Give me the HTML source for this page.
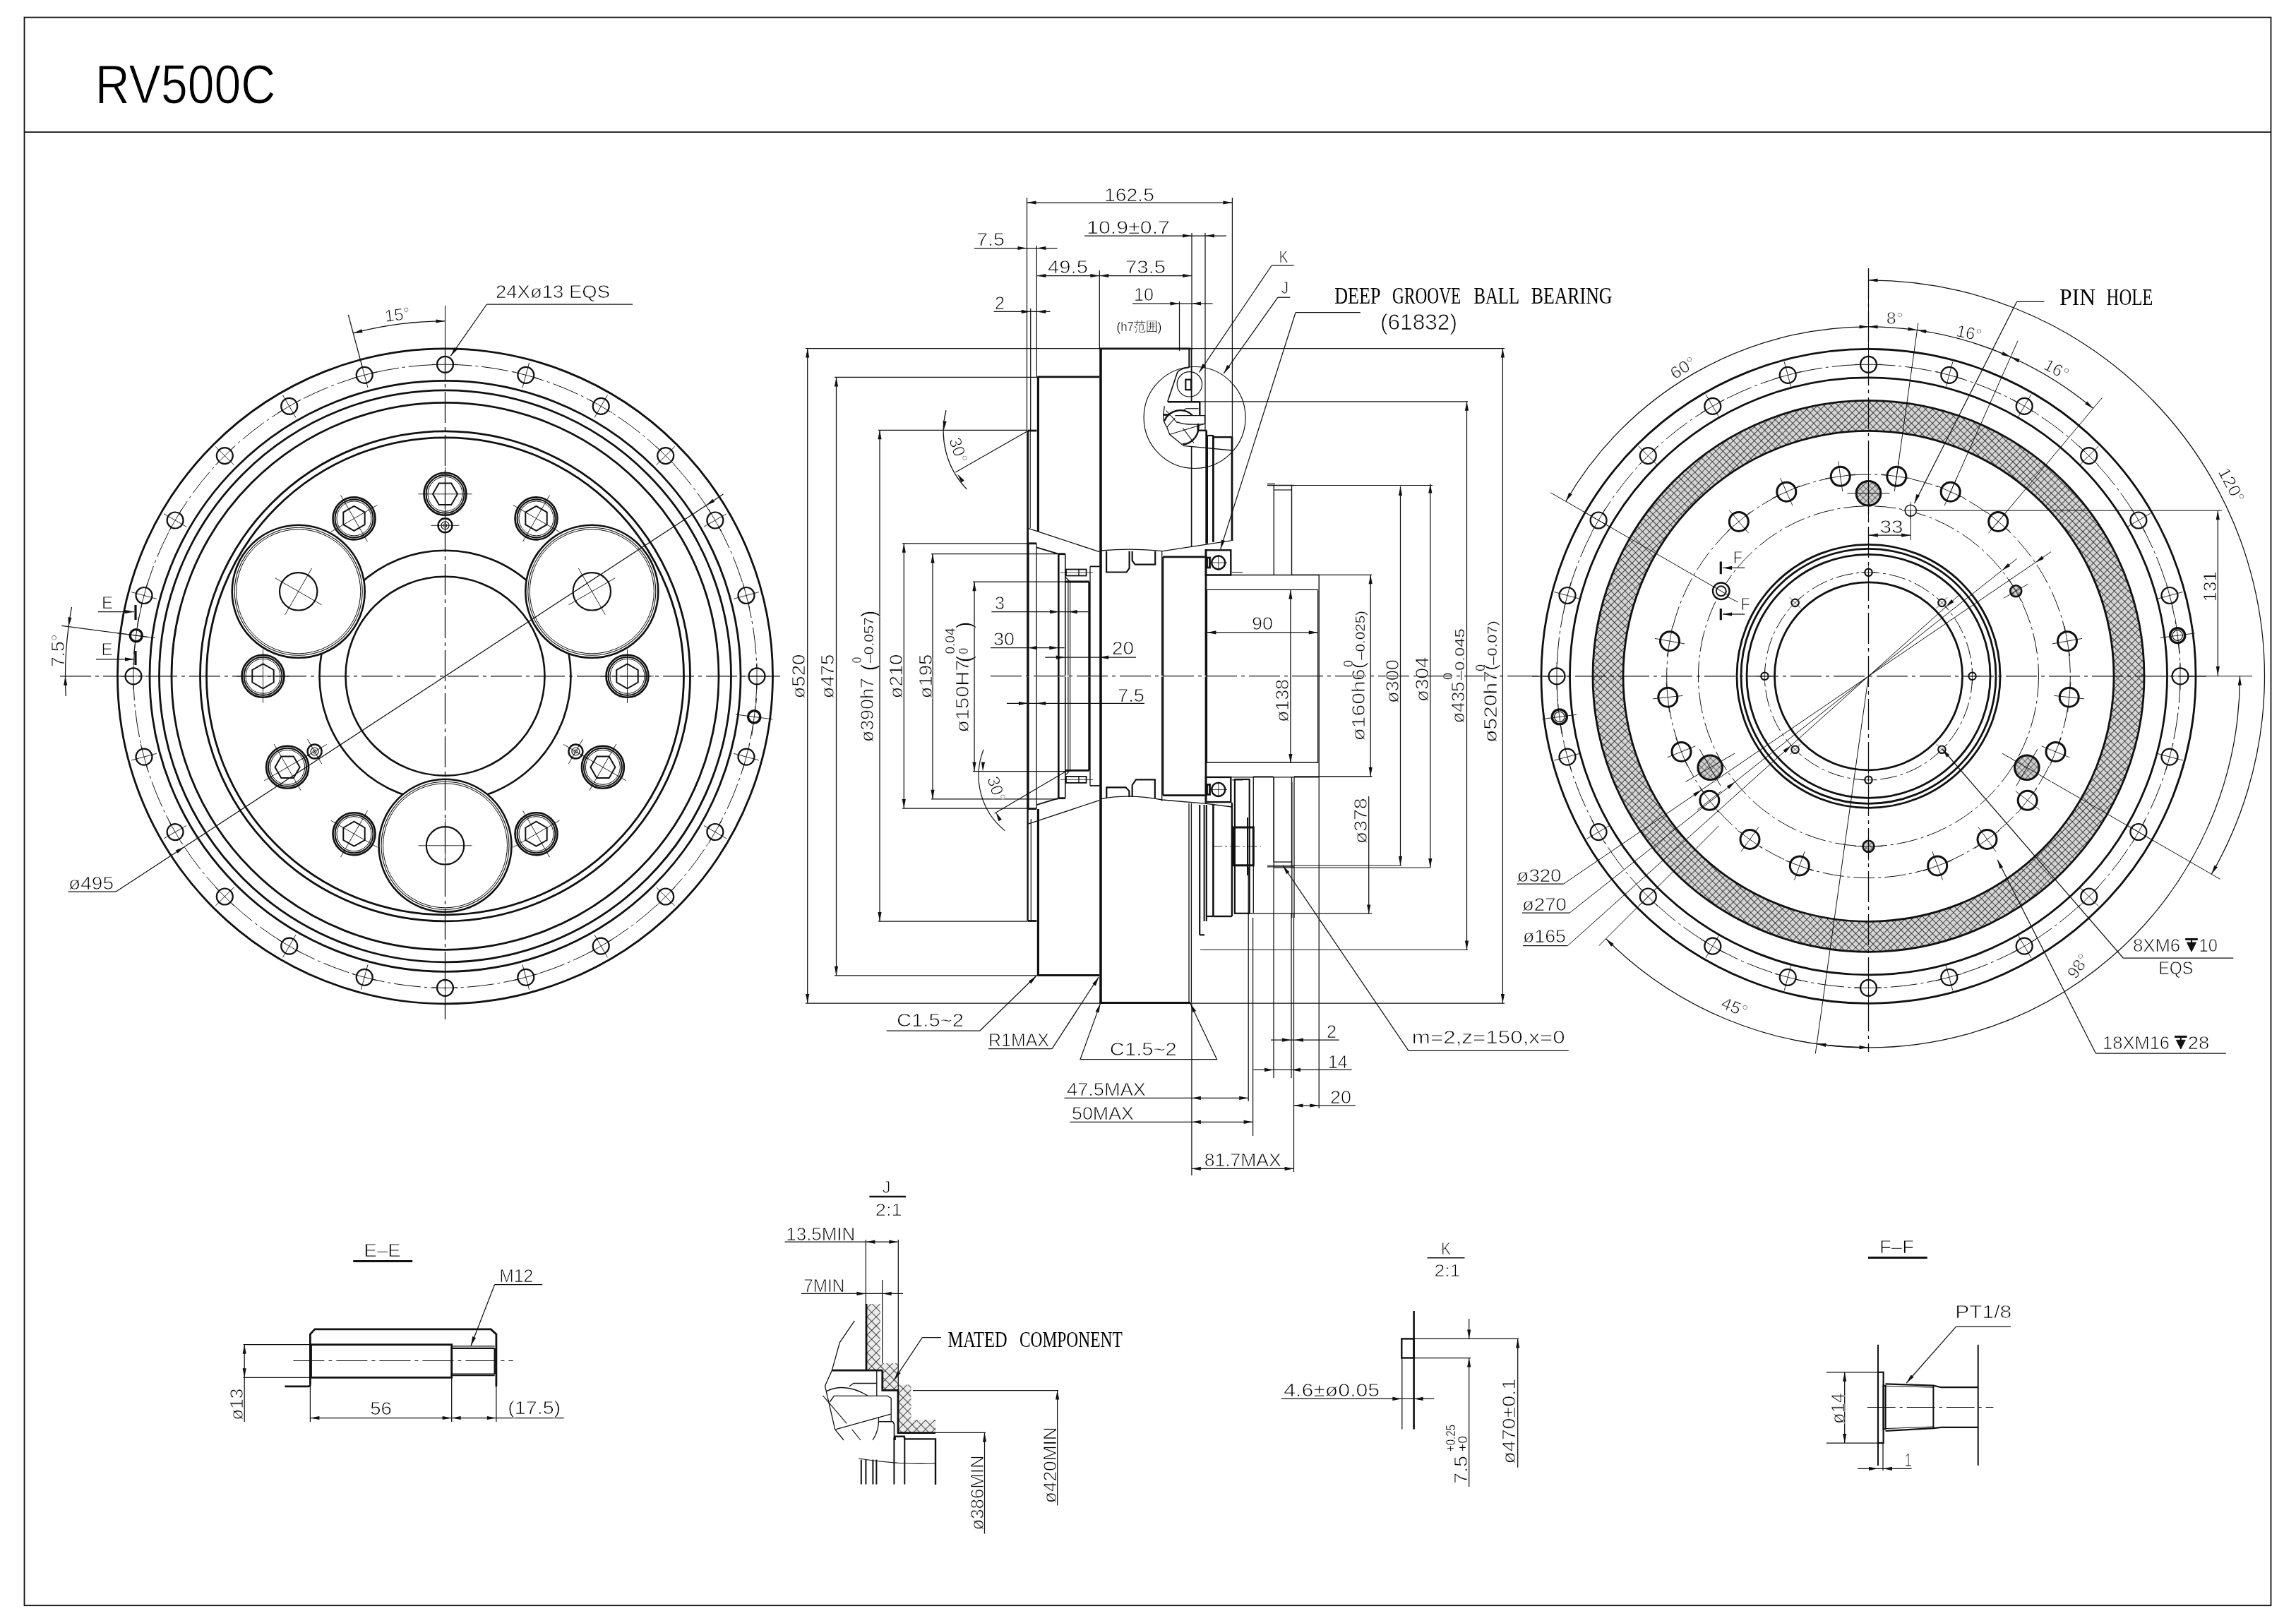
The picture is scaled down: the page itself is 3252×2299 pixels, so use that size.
<!DOCTYPE html><html><head><meta charset="utf-8"><title>RV500C</title><style>html,body{margin:0;padding:0;background:#fff;width:3252px;height:2299px;overflow:hidden}svg{display:block;filter:grayscale(1)}</style></head><body><svg xmlns="http://www.w3.org/2000/svg" width="3252" height="2299" viewBox="0 0 3252 2299" stroke-linecap="butt"><defs><pattern id="xh" patternUnits="userSpaceOnUse" width="7" height="7" patternTransform="rotate(45)"><rect width="7" height="7" fill="#d4d4d4"/><path d="M0,0 L7,0 M0,0 L0,7" stroke="#111" stroke-width="1.45"/></pattern><pattern id="xh2" patternUnits="userSpaceOnUse" width="6" height="6" patternTransform="rotate(45)"><rect width="6" height="6" fill="#cfcfcf"/><path d="M0,0 L6,0 M0,0 L0,6" stroke="#111" stroke-width="1.1"/></pattern><pattern id="xh3" patternUnits="userSpaceOnUse" width="9" height="9" patternTransform="rotate(45)"><rect width="9" height="9" fill="#ebebeb"/><path d="M0,0 L9,0 M0,0 L0,9" stroke="#111" stroke-width="1.5"/></pattern></defs><rect width="3252" height="2299" fill="#fff"/><rect x="34.5" y="24.6" width="3182" height="2249.6" fill="none" stroke="#111" stroke-width="1.8"/>
<line x1="34.5" y1="187.2" x2="3216.5" y2="187.2" stroke="#111" stroke-width="1.8"/>
<text x="134.8" y="146" font-family="Liberation Sans" font-size="77" fill="#000" font-weight="normal" text-anchor="start" textLength="255.5" lengthAdjust="spacingAndGlyphs" stroke="#fff" stroke-width="1.0">RV500C</text>
<circle cx="630.5" cy="957.8" r="464" fill="none" stroke="#111" stroke-width="2.8"/>
<circle cx="630.5" cy="957.8" r="418.5" fill="none" stroke="#111" stroke-width="2.8"/>
<circle cx="630.5" cy="957.8" r="405" fill="none" stroke="#111" stroke-width="2.8"/>
<circle cx="630.5" cy="957.8" r="387.5" fill="none" stroke="#111" stroke-width="2.8"/>
<circle cx="630.5" cy="957.8" r="347" fill="none" stroke="#111" stroke-width="2.8"/>
<circle cx="630.5" cy="957.8" r="338" fill="none" stroke="#111" stroke-width="2.8"/>
<circle cx="630.5" cy="957.8" r="441.5" fill="none" stroke="#111" stroke-width="1.0" stroke-dasharray="38 5 4 5"/>
<circle cx="630.5" cy="957.8" r="178" fill="none" stroke="#111" stroke-width="2.6"/>
<circle cx="630.5" cy="957.8" r="141" fill="none" stroke="#111" stroke-width="2.6"/>
<circle cx="630.5" cy="516.3" r="11.5" fill="#fff" stroke="#111" stroke-width="2.2"/>
<line x1="630.5" y1="534.8" x2="630.5" y2="497.8" stroke="#111" stroke-width="0.9"/>
<line x1="612" y1="516.3" x2="649" y2="516.3" stroke="#111" stroke-width="0.9"/>
<circle cx="744.8" cy="531.3" r="11.5" fill="#fff" stroke="#111" stroke-width="2.2"/>
<line x1="740" y1="549.2" x2="749.6" y2="513.5" stroke="#111" stroke-width="0.9"/>
<line x1="726.9" y1="526.6" x2="762.6" y2="536.1" stroke="#111" stroke-width="0.9"/>
<circle cx="851.2" cy="575.4" r="11.5" fill="#fff" stroke="#111" stroke-width="2.2"/>
<line x1="842" y1="591.5" x2="860.5" y2="559.4" stroke="#111" stroke-width="0.9"/>
<line x1="835.2" y1="566.2" x2="867.3" y2="584.7" stroke="#111" stroke-width="0.9"/>
<circle cx="942.7" cy="645.6" r="11.5" fill="#fff" stroke="#111" stroke-width="2.2"/>
<line x1="929.6" y1="658.7" x2="955.8" y2="632.5" stroke="#111" stroke-width="0.9"/>
<line x1="929.6" y1="632.5" x2="955.8" y2="658.7" stroke="#111" stroke-width="0.9"/>
<circle cx="1012.9" cy="737" r="11.5" fill="#fff" stroke="#111" stroke-width="2.2"/>
<line x1="996.8" y1="746.3" x2="1028.9" y2="727.8" stroke="#111" stroke-width="0.9"/>
<line x1="1003.6" y1="721" x2="1022.1" y2="753.1" stroke="#111" stroke-width="0.9"/>
<circle cx="1057" cy="843.5" r="11.5" fill="#fff" stroke="#111" stroke-width="2.2"/>
<line x1="1039.1" y1="848.3" x2="1074.8" y2="838.7" stroke="#111" stroke-width="0.9"/>
<line x1="1052.2" y1="825.7" x2="1061.7" y2="861.4" stroke="#111" stroke-width="0.9"/>
<circle cx="1072" cy="957.8" r="11.5" fill="#fff" stroke="#111" stroke-width="2.2"/>
<line x1="1053.5" y1="957.8" x2="1090.5" y2="957.8" stroke="#111" stroke-width="0.9"/>
<line x1="1072" y1="939.3" x2="1072" y2="976.3" stroke="#111" stroke-width="0.9"/>
<circle cx="1057" cy="1072.1" r="11.5" fill="#fff" stroke="#111" stroke-width="2.2"/>
<line x1="1039.1" y1="1067.3" x2="1074.8" y2="1076.9" stroke="#111" stroke-width="0.9"/>
<line x1="1061.7" y1="1054.2" x2="1052.2" y2="1089.9" stroke="#111" stroke-width="0.9"/>
<circle cx="1012.9" cy="1178.5" r="11.5" fill="#fff" stroke="#111" stroke-width="2.2"/>
<line x1="996.8" y1="1169.3" x2="1028.9" y2="1187.8" stroke="#111" stroke-width="0.9"/>
<line x1="1022.1" y1="1162.5" x2="1003.6" y2="1194.6" stroke="#111" stroke-width="0.9"/>
<circle cx="942.7" cy="1270" r="11.5" fill="#fff" stroke="#111" stroke-width="2.2"/>
<line x1="929.6" y1="1256.9" x2="955.8" y2="1283.1" stroke="#111" stroke-width="0.9"/>
<line x1="955.8" y1="1256.9" x2="929.6" y2="1283.1" stroke="#111" stroke-width="0.9"/>
<circle cx="851.2" cy="1340.2" r="11.5" fill="#fff" stroke="#111" stroke-width="2.2"/>
<line x1="842" y1="1324.1" x2="860.5" y2="1356.2" stroke="#111" stroke-width="0.9"/>
<line x1="867.3" y1="1330.9" x2="835.2" y2="1349.4" stroke="#111" stroke-width="0.9"/>
<circle cx="744.8" cy="1384.3" r="11.5" fill="#fff" stroke="#111" stroke-width="2.2"/>
<line x1="740" y1="1366.4" x2="749.6" y2="1402.1" stroke="#111" stroke-width="0.9"/>
<line x1="762.6" y1="1379.5" x2="726.9" y2="1389" stroke="#111" stroke-width="0.9"/>
<circle cx="630.5" cy="1399.3" r="11.5" fill="#fff" stroke="#111" stroke-width="2.2"/>
<line x1="630.5" y1="1380.8" x2="630.5" y2="1417.8" stroke="#111" stroke-width="0.9"/>
<line x1="649" y1="1399.3" x2="612" y2="1399.3" stroke="#111" stroke-width="0.9"/>
<circle cx="516.2" cy="1384.3" r="11.5" fill="#fff" stroke="#111" stroke-width="2.2"/>
<line x1="521" y1="1366.4" x2="511.4" y2="1402.1" stroke="#111" stroke-width="0.9"/>
<line x1="534.1" y1="1389" x2="498.4" y2="1379.5" stroke="#111" stroke-width="0.9"/>
<circle cx="409.7" cy="1340.2" r="11.5" fill="#fff" stroke="#111" stroke-width="2.2"/>
<line x1="419" y1="1324.1" x2="400.5" y2="1356.2" stroke="#111" stroke-width="0.9"/>
<line x1="425.8" y1="1349.4" x2="393.7" y2="1330.9" stroke="#111" stroke-width="0.9"/>
<circle cx="318.3" cy="1270" r="11.5" fill="#fff" stroke="#111" stroke-width="2.2"/>
<line x1="331.4" y1="1256.9" x2="305.2" y2="1283.1" stroke="#111" stroke-width="0.9"/>
<line x1="331.4" y1="1283.1" x2="305.2" y2="1256.9" stroke="#111" stroke-width="0.9"/>
<circle cx="248.1" cy="1178.6" r="11.5" fill="#fff" stroke="#111" stroke-width="2.2"/>
<line x1="264.2" y1="1169.3" x2="232.1" y2="1187.8" stroke="#111" stroke-width="0.9"/>
<line x1="257.4" y1="1194.6" x2="238.9" y2="1162.5" stroke="#111" stroke-width="0.9"/>
<circle cx="204" cy="1072.1" r="11.5" fill="#fff" stroke="#111" stroke-width="2.2"/>
<line x1="221.9" y1="1067.3" x2="186.2" y2="1076.9" stroke="#111" stroke-width="0.9"/>
<line x1="208.8" y1="1089.9" x2="199.3" y2="1054.2" stroke="#111" stroke-width="0.9"/>
<circle cx="189" cy="957.8" r="11.5" fill="#fff" stroke="#111" stroke-width="2.2"/>
<line x1="207.5" y1="957.8" x2="170.5" y2="957.8" stroke="#111" stroke-width="0.9"/>
<line x1="189" y1="976.3" x2="189" y2="939.3" stroke="#111" stroke-width="0.9"/>
<circle cx="204" cy="843.5" r="11.5" fill="#fff" stroke="#111" stroke-width="2.2"/>
<line x1="221.9" y1="848.3" x2="186.2" y2="838.7" stroke="#111" stroke-width="0.9"/>
<line x1="199.3" y1="861.4" x2="208.8" y2="825.7" stroke="#111" stroke-width="0.9"/>
<circle cx="248.1" cy="737" r="11.5" fill="#fff" stroke="#111" stroke-width="2.2"/>
<line x1="264.2" y1="746.3" x2="232.1" y2="727.8" stroke="#111" stroke-width="0.9"/>
<line x1="238.9" y1="753.1" x2="257.4" y2="721" stroke="#111" stroke-width="0.9"/>
<circle cx="318.3" cy="645.6" r="11.5" fill="#fff" stroke="#111" stroke-width="2.2"/>
<line x1="331.4" y1="658.7" x2="305.2" y2="632.5" stroke="#111" stroke-width="0.9"/>
<line x1="305.2" y1="658.7" x2="331.4" y2="632.5" stroke="#111" stroke-width="0.9"/>
<circle cx="409.7" cy="575.4" r="11.5" fill="#fff" stroke="#111" stroke-width="2.2"/>
<line x1="419" y1="591.5" x2="400.5" y2="559.4" stroke="#111" stroke-width="0.9"/>
<line x1="393.7" y1="584.7" x2="425.8" y2="566.2" stroke="#111" stroke-width="0.9"/>
<circle cx="516.2" cy="531.3" r="11.5" fill="#fff" stroke="#111" stroke-width="2.2"/>
<line x1="521" y1="549.2" x2="511.4" y2="513.5" stroke="#111" stroke-width="0.9"/>
<line x1="498.4" y1="536.1" x2="534.1" y2="526.6" stroke="#111" stroke-width="0.9"/>
<circle cx="192.8" cy="900.2" r="8.6" fill="#fff" stroke="#111" stroke-width="3.4"/>
<line x1="219.1" y1="903.6" x2="166.4" y2="896.7" stroke="#111" stroke-width="0.9"/>
<line x1="189.3" y1="926.5" x2="196.2" y2="873.8" stroke="#111" stroke-width="0.9"/>
<circle cx="1068.2" cy="1015.4" r="8.6" fill="#fff" stroke="#111" stroke-width="3.4"/>
<line x1="1041.9" y1="1012" x2="1094.6" y2="1018.9" stroke="#111" stroke-width="0.9"/>
<line x1="1071.7" y1="989.1" x2="1064.8" y2="1041.8" stroke="#111" stroke-width="0.9"/>
<circle cx="838.3" cy="837.8" r="94" fill="#fff" stroke="#111" stroke-width="2.6"/>
<circle cx="838.3" cy="837.8" r="90.5" fill="none" stroke="#111" stroke-width="1.1"/>
<circle cx="838.3" cy="837.8" r="88" fill="none" stroke="#111" stroke-width="1.0"/>
<circle cx="838.3" cy="837.8" r="26.7" fill="none" stroke="#111" stroke-width="2.2"/>
<line x1="871.3" y1="818.8" x2="805.4" y2="856.8" stroke="#111" stroke-width="0.9"/>
<line x1="857.3" y1="870.7" x2="819.3" y2="804.9" stroke="#111" stroke-width="0.9"/>
<circle cx="422.7" cy="837.8" r="94" fill="#fff" stroke="#111" stroke-width="2.6"/>
<circle cx="422.7" cy="837.8" r="90.5" fill="none" stroke="#111" stroke-width="1.1"/>
<circle cx="422.7" cy="837.8" r="88" fill="none" stroke="#111" stroke-width="1.0"/>
<circle cx="422.7" cy="837.8" r="26.7" fill="none" stroke="#111" stroke-width="2.2"/>
<line x1="389.7" y1="818.8" x2="455.6" y2="856.8" stroke="#111" stroke-width="0.9"/>
<line x1="441.7" y1="804.9" x2="403.7" y2="870.7" stroke="#111" stroke-width="0.9"/>
<circle cx="630.5" cy="1197.8" r="94" fill="#fff" stroke="#111" stroke-width="2.6"/>
<circle cx="630.5" cy="1197.8" r="90.5" fill="none" stroke="#111" stroke-width="1.1"/>
<circle cx="630.5" cy="1197.8" r="88" fill="none" stroke="#111" stroke-width="1.0"/>
<circle cx="630.5" cy="1197.8" r="26.7" fill="none" stroke="#111" stroke-width="2.2"/>
<line x1="630.5" y1="1235.8" x2="630.5" y2="1159.8" stroke="#111" stroke-width="0.9"/>
<line x1="592.5" y1="1197.8" x2="668.5" y2="1197.8" stroke="#111" stroke-width="0.9"/>
<circle cx="888.5" cy="957.8" r="30" fill="#fff" stroke="#111" stroke-width="2.6"/>
<circle cx="888.5" cy="957.8" r="27" fill="none" stroke="#111" stroke-width="2.0"/>
<circle cx="888.5" cy="957.8" r="24.5" fill="none" stroke="#111" stroke-width="1.0"/>
<polygon points="888.5,975.3 873.3,966.5 873.3,949 888.5,940.3 903.7,949 903.7,966.5" fill="none" stroke="#111" stroke-width="2.0" stroke-linejoin="miter"/>
<line x1="850.5" y1="957.8" x2="926.5" y2="957.8" stroke="#111" stroke-width="0.9"/>
<line x1="888.5" y1="919.8" x2="888.5" y2="995.8" stroke="#111" stroke-width="0.9"/>
<circle cx="759.5" cy="734.4" r="30" fill="#fff" stroke="#111" stroke-width="2.6"/>
<circle cx="759.5" cy="734.4" r="27" fill="none" stroke="#111" stroke-width="2.0"/>
<circle cx="759.5" cy="734.4" r="24.5" fill="none" stroke="#111" stroke-width="1.0"/>
<polygon points="774.7,743.1 759.5,751.9 744.3,743.1 744.3,725.6 759.5,716.9 774.7,725.6" fill="none" stroke="#111" stroke-width="2.0" stroke-linejoin="miter"/>
<line x1="740.5" y1="767.3" x2="778.5" y2="701.5" stroke="#111" stroke-width="0.9"/>
<line x1="726.6" y1="715.4" x2="792.4" y2="753.4" stroke="#111" stroke-width="0.9"/>
<circle cx="630.5" cy="699.8" r="30" fill="#fff" stroke="#111" stroke-width="2.6"/>
<circle cx="630.5" cy="699.8" r="27" fill="none" stroke="#111" stroke-width="2.0"/>
<circle cx="630.5" cy="699.8" r="24.5" fill="none" stroke="#111" stroke-width="1.0"/>
<polygon points="648,699.8 639.2,715 621.8,715 613,699.8 621.8,684.6 639.2,684.6" fill="none" stroke="#111" stroke-width="2.0" stroke-linejoin="miter"/>
<line x1="630.5" y1="737.8" x2="630.5" y2="661.8" stroke="#111" stroke-width="0.9"/>
<line x1="592.5" y1="699.8" x2="668.5" y2="699.8" stroke="#111" stroke-width="0.9"/>
<circle cx="501.5" cy="734.4" r="30" fill="#fff" stroke="#111" stroke-width="2.6"/>
<circle cx="501.5" cy="734.4" r="27" fill="none" stroke="#111" stroke-width="2.0"/>
<circle cx="501.5" cy="734.4" r="24.5" fill="none" stroke="#111" stroke-width="1.0"/>
<polygon points="516.7,725.6 516.7,743.1 501.5,751.9 486.3,743.1 486.3,725.6 501.5,716.9" fill="none" stroke="#111" stroke-width="2.0" stroke-linejoin="miter"/>
<line x1="520.5" y1="767.3" x2="482.5" y2="701.5" stroke="#111" stroke-width="0.9"/>
<line x1="468.6" y1="753.4" x2="534.4" y2="715.4" stroke="#111" stroke-width="0.9"/>
<circle cx="372.5" cy="957.8" r="30" fill="#fff" stroke="#111" stroke-width="2.6"/>
<circle cx="372.5" cy="957.8" r="27" fill="none" stroke="#111" stroke-width="2.0"/>
<circle cx="372.5" cy="957.8" r="24.5" fill="none" stroke="#111" stroke-width="1.0"/>
<polygon points="372.5,940.3 387.7,949 387.7,966.5 372.5,975.3 357.3,966.5 357.3,949" fill="none" stroke="#111" stroke-width="2.0" stroke-linejoin="miter"/>
<line x1="410.5" y1="957.8" x2="334.5" y2="957.8" stroke="#111" stroke-width="0.9"/>
<line x1="372.5" y1="995.8" x2="372.5" y2="919.8" stroke="#111" stroke-width="0.9"/>
<circle cx="407.1" cy="1086.8" r="30" fill="#fff" stroke="#111" stroke-width="2.6"/>
<circle cx="407.1" cy="1086.8" r="27" fill="none" stroke="#111" stroke-width="2.0"/>
<circle cx="407.1" cy="1086.8" r="24.5" fill="none" stroke="#111" stroke-width="1.0"/>
<polygon points="398.3,1071.6 415.8,1071.6 424.6,1086.8 415.8,1102 398.3,1102 389.6,1086.8" fill="none" stroke="#111" stroke-width="2.0" stroke-linejoin="miter"/>
<line x1="440" y1="1067.8" x2="374.2" y2="1105.8" stroke="#111" stroke-width="0.9"/>
<line x1="426.1" y1="1119.7" x2="388.1" y2="1053.9" stroke="#111" stroke-width="0.9"/>
<circle cx="501.5" cy="1181.2" r="30" fill="#fff" stroke="#111" stroke-width="2.6"/>
<circle cx="501.5" cy="1181.2" r="27" fill="none" stroke="#111" stroke-width="2.0"/>
<circle cx="501.5" cy="1181.2" r="24.5" fill="none" stroke="#111" stroke-width="1.0"/>
<polygon points="486.3,1172.5 501.5,1163.7 516.7,1172.5 516.7,1190 501.5,1198.7 486.3,1190" fill="none" stroke="#111" stroke-width="2.0" stroke-linejoin="miter"/>
<line x1="520.5" y1="1148.3" x2="482.5" y2="1214.1" stroke="#111" stroke-width="0.9"/>
<line x1="534.4" y1="1200.2" x2="468.6" y2="1162.2" stroke="#111" stroke-width="0.9"/>
<circle cx="759.5" cy="1181.2" r="30" fill="#fff" stroke="#111" stroke-width="2.6"/>
<circle cx="759.5" cy="1181.2" r="27" fill="none" stroke="#111" stroke-width="2.0"/>
<circle cx="759.5" cy="1181.2" r="24.5" fill="none" stroke="#111" stroke-width="1.0"/>
<polygon points="744.3,1190 744.3,1172.5 759.5,1163.7 774.7,1172.5 774.7,1190 759.5,1198.7" fill="none" stroke="#111" stroke-width="2.0" stroke-linejoin="miter"/>
<line x1="740.5" y1="1148.3" x2="778.5" y2="1214.1" stroke="#111" stroke-width="0.9"/>
<line x1="792.4" y1="1162.2" x2="726.6" y2="1200.2" stroke="#111" stroke-width="0.9"/>
<circle cx="853.9" cy="1086.8" r="30" fill="#fff" stroke="#111" stroke-width="2.6"/>
<circle cx="853.9" cy="1086.8" r="27" fill="none" stroke="#111" stroke-width="2.0"/>
<circle cx="853.9" cy="1086.8" r="24.5" fill="none" stroke="#111" stroke-width="1.0"/>
<polygon points="845.2,1102 836.4,1086.8 845.2,1071.6 862.7,1071.6 871.4,1086.8 862.7,1102" fill="none" stroke="#111" stroke-width="2.0" stroke-linejoin="miter"/>
<line x1="821" y1="1067.8" x2="886.8" y2="1105.8" stroke="#111" stroke-width="0.9"/>
<line x1="872.9" y1="1053.9" x2="834.9" y2="1119.7" stroke="#111" stroke-width="0.9"/>
<circle cx="630.5" cy="744.3" r="10" fill="#fff" stroke="#111" stroke-width="2.4"/>
<circle cx="630.5" cy="744.3" r="5.5" fill="none" stroke="#111" stroke-width="1.2"/>
<circle cx="630.5" cy="744.3" r="2.5" fill="none" stroke="#111" stroke-width="1.0"/>
<line x1="630.5" y1="764.3" x2="630.5" y2="724.3" stroke="#111" stroke-width="0.9"/>
<line x1="610.5" y1="744.3" x2="650.5" y2="744.3" stroke="#111" stroke-width="0.9"/>
<circle cx="445.6" cy="1064.5" r="10" fill="#fff" stroke="#111" stroke-width="2.4"/>
<circle cx="445.6" cy="1064.5" r="5.5" fill="none" stroke="#111" stroke-width="1.2"/>
<circle cx="445.6" cy="1064.5" r="2.5" fill="none" stroke="#111" stroke-width="1.0"/>
<line x1="462.9" y1="1054.5" x2="428.3" y2="1074.5" stroke="#111" stroke-width="0.9"/>
<line x1="455.6" y1="1081.9" x2="435.6" y2="1047.2" stroke="#111" stroke-width="0.9"/>
<circle cx="815.4" cy="1064.5" r="10" fill="#fff" stroke="#111" stroke-width="2.4"/>
<circle cx="815.4" cy="1064.5" r="5.5" fill="none" stroke="#111" stroke-width="1.2"/>
<circle cx="815.4" cy="1064.5" r="2.5" fill="none" stroke="#111" stroke-width="1.0"/>
<line x1="798.1" y1="1054.5" x2="832.7" y2="1074.5" stroke="#111" stroke-width="0.9"/>
<line x1="825.4" y1="1047.2" x2="805.4" y2="1081.9" stroke="#111" stroke-width="0.9"/>
<line x1="85" y1="957.8" x2="1110" y2="957.8" stroke="#111" stroke-width="1.3" stroke-dasharray="44 6 5 6"/>
<line x1="630.5" y1="494" x2="630.5" y2="1444" stroke="#111" stroke-width="1.3" stroke-dasharray="44 6 5 6"/>
<line x1="630.5" y1="433" x2="630.5" y2="494" stroke="#111" stroke-width="1.1"/>
<text x="702" y="422" font-family="Liberation Sans" font-size="26" fill="#000" font-weight="normal" text-anchor="start" textLength="162" lengthAdjust="spacingAndGlyphs" stroke="#fff" stroke-width="0.75">24Xø13 EQS</text>
<line x1="689.5" y1="431" x2="896" y2="431" stroke="#111" stroke-width="1.25"/>
<line x1="689.5" y1="431" x2="638.4" y2="504.2" stroke="#111" stroke-width="1.25"/>
<polygon points="638.4,504.2 643.7,492 647.9,495" fill="#111"/>
<path d="M500.3,471.9 A503,503 0 0 1 630.5,454.8" fill="none" stroke="#111" stroke-width="1.25"/>
<polygon points="500.3,471.9 512.3,466.2 513.6,471.3" fill="#111"/>
<polygon points="630.5,454.8 617.5,457.6 617.5,452.4" fill="#111"/>
<line x1="513.5" y1="521.2" x2="493.3" y2="445.9" stroke="#111" stroke-width="1.25"/>
<text x="546" y="456" font-family="Liberation Sans" font-size="24" fill="#000" font-weight="normal" text-anchor="start" transform="rotate(-7 546 456)" textLength="36" lengthAdjust="spacingAndGlyphs" stroke="#fff" stroke-width="0.75">15°</text>
<line x1="164.3" y1="1263" x2="1024.4" y2="700.1" stroke="#111" stroke-width="1.25"/>
<polygon points="261.1,1199.5 251.6,1208.8 248.8,1204.5" fill="#111"/>
<polygon points="999.9,716.1 1009.4,706.8 1012.2,711.1" fill="#111"/>
<line x1="96.6" y1="1263" x2="164.3" y2="1263" stroke="#111" stroke-width="1.25"/>
<text x="97" y="1259.7" font-family="Liberation Sans" font-size="26" fill="#000" font-weight="normal" text-anchor="start" textLength="64" lengthAdjust="spacingAndGlyphs" stroke="#fff" stroke-width="0.75">ø495</text>
<line x1="192" y1="857" x2="192" y2="878" stroke="#111" stroke-width="3.2"/>
<line x1="192" y1="922" x2="192" y2="942" stroke="#111" stroke-width="3.2"/>
<line x1="139" y1="866.5" x2="190" y2="866.5" stroke="#111" stroke-width="1.25"/>
<polygon points="190,866.5 177,869.1 177,863.9" fill="#111"/>
<line x1="136" y1="933.8" x2="190" y2="933.8" stroke="#111" stroke-width="1.25"/>
<polygon points="190,933.8 177,936.4 177,931.2" fill="#111"/>
<text x="144" y="862" font-family="Liberation Sans" font-size="24" fill="#000" font-weight="normal" text-anchor="start" textLength="16" lengthAdjust="spacingAndGlyphs" stroke="#fff" stroke-width="0.75">E</text>
<text x="143.5" y="927.5" font-family="Liberation Sans" font-size="24" fill="#000" font-weight="normal" text-anchor="start" textLength="16" lengthAdjust="spacingAndGlyphs" stroke="#fff" stroke-width="0.75">E</text>
<path d="M92.5,957.8 A538,538 0 0 1 97.1,887.6" fill="none" stroke="#111" stroke-width="1.25"/>
<path d="M97.1,887.6 A538,538 0 0 1 101.5,859.8" fill="none" stroke="#111" stroke-width="1.25"/>
<path d="M93.2,986 A538,538 0 0 1 92.5,957.8" fill="none" stroke="#111" stroke-width="1.25"/>
<polygon points="92.5,957.8 95.3,970.8 90.1,970.8" fill="#111"/>
<polygon points="97.1,887.6 96.4,874.3 101.5,875.1" fill="#111"/>
<line x1="210.1" y1="902.5" x2="87.2" y2="886.3" stroke="#111" stroke-width="1.25"/>
<text x="90.5" y="945" font-family="Liberation Sans" font-size="26" fill="#000" font-weight="normal" text-anchor="start" transform="rotate(-90 90.5 945)" textLength="47" lengthAdjust="spacingAndGlyphs" stroke="#fff" stroke-width="0.75">7.5°</text>
<line x1="1141" y1="493.5" x2="2131" y2="493.5" stroke="#111" stroke-width="1.25"/>
<line x1="1141" y1="1421" x2="2131" y2="1421" stroke="#111" stroke-width="1.25"/>
<line x1="1182" y1="534.4" x2="1470" y2="534.4" stroke="#111" stroke-width="1.25"/>
<line x1="1182" y1="1381.8" x2="1470" y2="1381.8" stroke="#111" stroke-width="1.25"/>
<line x1="1244" y1="609.3" x2="1455" y2="609.3" stroke="#111" stroke-width="1.25"/>
<line x1="1244" y1="1305" x2="1455" y2="1305" stroke="#111" stroke-width="1.25"/>
<line x1="1278" y1="769.8" x2="1456" y2="769.8" stroke="#111" stroke-width="1.25"/>
<line x1="1278" y1="1145" x2="1456" y2="1145" stroke="#111" stroke-width="1.25"/>
<line x1="1319" y1="784.6" x2="1499" y2="784.6" stroke="#111" stroke-width="1.25"/>
<line x1="1319" y1="1131.8" x2="1499" y2="1131.8" stroke="#111" stroke-width="1.25"/>
<line x1="1378" y1="824.2" x2="1513" y2="824.2" stroke="#111" stroke-width="1.25"/>
<line x1="1378" y1="1092.5" x2="1513" y2="1092.5" stroke="#111" stroke-width="1.25"/>
<line x1="1143.7" y1="493.5" x2="1143.7" y2="1421" stroke="#111" stroke-width="1.25"/>
<polygon points="1143.7,493.5 1146.3,506.5 1141.1,506.5" fill="#111"/>
<polygon points="1143.7,1421 1141.1,1408 1146.3,1408" fill="#111"/>
<line x1="1184.5" y1="534.4" x2="1184.5" y2="1381.8" stroke="#111" stroke-width="1.25"/>
<polygon points="1184.5,534.4 1187.1,547.4 1181.9,547.4" fill="#111"/>
<polygon points="1184.5,1381.8 1181.9,1368.8 1187.1,1368.8" fill="#111"/>
<line x1="1246" y1="609.3" x2="1246" y2="1305" stroke="#111" stroke-width="1.25"/>
<polygon points="1246,609.3 1248.6,622.3 1243.4,622.3" fill="#111"/>
<polygon points="1246,1305 1243.4,1292 1248.6,1292" fill="#111"/>
<line x1="1280.3" y1="769.8" x2="1280.3" y2="1145" stroke="#111" stroke-width="1.25"/>
<polygon points="1280.3,769.8 1282.9,782.8 1277.7,782.8" fill="#111"/>
<polygon points="1280.3,1145 1277.7,1132 1282.9,1132" fill="#111"/>
<line x1="1321" y1="784.6" x2="1321" y2="1131.8" stroke="#111" stroke-width="1.25"/>
<polygon points="1321,784.6 1323.6,797.6 1318.4,797.6" fill="#111"/>
<polygon points="1321,1131.8 1318.4,1118.8 1323.6,1118.8" fill="#111"/>
<line x1="1380" y1="824.2" x2="1380" y2="1092.5" stroke="#111" stroke-width="1.25"/>
<polygon points="1380,824.2 1382.6,837.2 1377.4,837.2" fill="#111"/>
<polygon points="1380,1092.5 1377.4,1079.5 1382.6,1079.5" fill="#111"/>
<text x="1140.4" y="989.5" font-family="Liberation Sans" font-size="26" fill="#000" font-weight="normal" text-anchor="start" transform="rotate(-90 1140.4 989.5)" textLength="63" lengthAdjust="spacingAndGlyphs" stroke="#fff" stroke-width="0.75">ø520</text>
<text x="1181" y="989.5" font-family="Liberation Sans" font-size="26" fill="#000" font-weight="normal" text-anchor="start" transform="rotate(-90 1181 989.5)" textLength="63" lengthAdjust="spacingAndGlyphs" stroke="#fff" stroke-width="0.75">ø475</text>
<text x="1237.5" y="1051.2" font-family="Liberation Sans" font-size="26" fill="#000" font-weight="normal" text-anchor="start" transform="rotate(-90 1237.5 1051.2)" textLength="91" lengthAdjust="spacingAndGlyphs" stroke="#fff" stroke-width="0.75">ø390h7</text>
<text x="1241" y="950" font-family="Liberation Sans" font-size="30" fill="#000" font-weight="normal" text-anchor="start" transform="rotate(-90 1241 950)" textLength="9" lengthAdjust="spacingAndGlyphs" stroke="#fff" stroke-width="0.4">(</text>
<text x="1220.5" y="939.2" font-family="Liberation Sans" font-size="18" fill="#000" font-weight="normal" text-anchor="start" transform="rotate(-90 1220.5 939.2)" textLength="8.5" lengthAdjust="spacingAndGlyphs" stroke="#fff" stroke-width="0.35">0</text>
<text x="1236.8" y="939.2" font-family="Liberation Sans" font-size="18" fill="#000" font-weight="normal" text-anchor="start" transform="rotate(-90 1236.8 939.2)" textLength="65" lengthAdjust="spacingAndGlyphs" stroke="#fff" stroke-width="0.35">–0.057</text>
<text x="1241" y="874" font-family="Liberation Sans" font-size="30" fill="#000" font-weight="normal" text-anchor="start" transform="rotate(-90 1241 874)" textLength="9" lengthAdjust="spacingAndGlyphs" stroke="#fff" stroke-width="0.4">)</text>
<text x="1278.3" y="989.5" font-family="Liberation Sans" font-size="26" fill="#000" font-weight="normal" text-anchor="start" transform="rotate(-90 1278.3 989.5)" textLength="63" lengthAdjust="spacingAndGlyphs" stroke="#fff" stroke-width="0.75">ø210</text>
<text x="1320" y="989.5" font-family="Liberation Sans" font-size="26" fill="#000" font-weight="normal" text-anchor="start" transform="rotate(-90 1320 989.5)" textLength="63" lengthAdjust="spacingAndGlyphs" stroke="#fff" stroke-width="0.75">ø195</text>
<text x="1372" y="1037.7" font-family="Liberation Sans" font-size="26" fill="#000" font-weight="normal" text-anchor="start" transform="rotate(-90 1372 1037.7)" textLength="103" lengthAdjust="spacingAndGlyphs" stroke="#fff" stroke-width="0.75">ø150H7</text>
<text x="1376" y="938" font-family="Liberation Sans" font-size="30" fill="#000" font-weight="normal" text-anchor="start" transform="rotate(-90 1376 938)" textLength="9" lengthAdjust="spacingAndGlyphs" stroke="#fff" stroke-width="0.4">(</text>
<text x="1352" y="926.5" font-family="Liberation Sans" font-size="18" fill="#000" font-weight="normal" text-anchor="start" transform="rotate(-90 1352 926.5)" textLength="37" lengthAdjust="spacingAndGlyphs" stroke="#fff" stroke-width="0.35">0.04</text>
<text x="1371.4" y="926.5" font-family="Liberation Sans" font-size="18" fill="#000" font-weight="normal" text-anchor="start" transform="rotate(-90 1371.4 926.5)" textLength="8.5" lengthAdjust="spacingAndGlyphs" stroke="#fff" stroke-width="0.35">0</text>
<text x="1376" y="890" font-family="Liberation Sans" font-size="30" fill="#000" font-weight="normal" text-anchor="start" transform="rotate(-90 1376 890)" textLength="9" lengthAdjust="spacingAndGlyphs" stroke="#fff" stroke-width="0.4">)</text>
<line x1="1454.5" y1="280" x2="1454.5" y2="610" stroke="#111" stroke-width="1.25"/>
<line x1="1745.4" y1="280" x2="1745.4" y2="620" stroke="#111" stroke-width="1.25"/>
<line x1="1454.5" y1="287" x2="1745.4" y2="287" stroke="#111" stroke-width="1.25"/>
<polygon points="1454.5,287 1467.5,284.4 1467.5,289.6" fill="#111"/>
<polygon points="1745.4,287 1732.4,289.6 1732.4,284.4" fill="#111"/>
<text x="1564" y="284.5" font-family="Liberation Sans" font-size="26" fill="#000" font-weight="normal" text-anchor="start" textLength="71" lengthAdjust="spacingAndGlyphs" stroke="#fff" stroke-width="0.75">162.5</text>
<line x1="1536" y1="334" x2="1737" y2="334" stroke="#111" stroke-width="1.25"/>
<line x1="1688" y1="330" x2="1688" y2="496" stroke="#111" stroke-width="1.25"/>
<line x1="1707" y1="330" x2="1707" y2="611" stroke="#111" stroke-width="1.25"/>
<polygon points="1688,334 1675,336.6 1675,331.4" fill="#111"/>
<polygon points="1707,334 1720,331.4 1720,336.6" fill="#111"/>
<text x="1539" y="330.5" font-family="Liberation Sans" font-size="26" fill="#000" font-weight="normal" text-anchor="start" textLength="118" lengthAdjust="spacingAndGlyphs" stroke="#fff" stroke-width="0.75">10.9±0.7</text>
<line x1="1380" y1="351.5" x2="1497.6" y2="351.5" stroke="#111" stroke-width="1.25"/>
<line x1="1468.4" y1="348" x2="1468.4" y2="534" stroke="#111" stroke-width="1.25"/>
<polygon points="1454.5,351.5 1441.5,354.1 1441.5,348.9" fill="#111"/>
<polygon points="1468.4,351.5 1481.4,348.9 1481.4,354.1" fill="#111"/>
<text x="1383" y="347.5" font-family="Liberation Sans" font-size="26" fill="#000" font-weight="normal" text-anchor="start" textLength="40" lengthAdjust="spacingAndGlyphs" stroke="#fff" stroke-width="0.75">7.5</text>
<line x1="1557.3" y1="383" x2="1557.3" y2="494" stroke="#111" stroke-width="1.25"/>
<line x1="1468.4" y1="390.5" x2="1688" y2="390.5" stroke="#111" stroke-width="1.25"/>
<polygon points="1468.4,390.5 1481.4,387.9 1481.4,393.1" fill="#111"/>
<polygon points="1557.3,390.5 1544.3,393.1 1544.3,387.9" fill="#111"/>
<polygon points="1557.3,390.5 1570.3,387.9 1570.3,393.1" fill="#111"/>
<polygon points="1688,390.5 1675,393.1 1675,387.9" fill="#111"/>
<text x="1484" y="386.5" font-family="Liberation Sans" font-size="26" fill="#000" font-weight="normal" text-anchor="start" textLength="57" lengthAdjust="spacingAndGlyphs" stroke="#fff" stroke-width="0.75">49.5</text>
<text x="1594" y="386.5" font-family="Liberation Sans" font-size="26" fill="#000" font-weight="normal" text-anchor="start" textLength="57" lengthAdjust="spacingAndGlyphs" stroke="#fff" stroke-width="0.75">73.5</text>
<line x1="1604" y1="430" x2="1717.6" y2="430" stroke="#111" stroke-width="1.25"/>
<line x1="1670.5" y1="427" x2="1670.5" y2="497" stroke="#111" stroke-width="1.25"/>
<polygon points="1670.5,430 1657.5,432.6 1657.5,427.4" fill="#111"/>
<polygon points="1688,430 1701,427.4 1701,432.6" fill="#111"/>
<text x="1606" y="426" font-family="Liberation Sans" font-size="26" fill="#000" font-weight="normal" text-anchor="start" textLength="28" lengthAdjust="spacingAndGlyphs" stroke="#fff" stroke-width="0.75">10</text>
<line x1="1407.5" y1="441.4" x2="1487.5" y2="441.4" stroke="#111" stroke-width="1.25"/>
<line x1="1459.7" y1="437" x2="1459.7" y2="610" stroke="#111" stroke-width="1.25"/>
<polygon points="1459.7,441.4 1446.7,444 1446.7,438.8" fill="#111"/>
<polygon points="1468.4,441.4 1481.4,438.8 1481.4,444" fill="#111"/>
<text x="1409" y="437.5" font-family="Liberation Sans" font-size="26" fill="#000" font-weight="normal" text-anchor="start" textLength="14" lengthAdjust="spacingAndGlyphs" stroke="#fff" stroke-width="0.75">2</text>
<text x="1581.5" y="468.5" font-family="Liberation Sans" font-size="19" fill="#000" font-weight="normal" text-anchor="start" textLength="64" lengthAdjust="spacingAndGlyphs" stroke="#fff" stroke-width="0.35">(h7范囲)</text>
<line x1="1557.5" y1="493.8" x2="1686.3" y2="493.8" stroke="#111" stroke-width="2.8"/>
<line x1="1557.5" y1="1420.5" x2="1686.3" y2="1420.5" stroke="#111" stroke-width="2.8"/>
<line x1="1559" y1="493.8" x2="1559" y2="1421" stroke="#111" stroke-width="3.6"/>
<line x1="1684.3" y1="493.8" x2="1684.3" y2="520.5" stroke="#111" stroke-width="2.0"/>
<line x1="1687.6" y1="493.8" x2="1687.6" y2="569" stroke="#111" stroke-width="1.8"/>
<line x1="1469.4" y1="533.8" x2="1557.2" y2="533.8" stroke="#111" stroke-width="2.8"/>
<line x1="1469.4" y1="1381.5" x2="1557.2" y2="1381.5" stroke="#111" stroke-width="2.8"/>
<line x1="1470.4" y1="533.8" x2="1470.4" y2="753" stroke="#111" stroke-width="3.2"/>
<line x1="1470.4" y1="1146" x2="1470.4" y2="1381.5" stroke="#111" stroke-width="3.2"/>
<line x1="1455.6" y1="610" x2="1468.4" y2="610" stroke="#111" stroke-width="2.8"/>
<line x1="1455.6" y1="1304.5" x2="1468.4" y2="1304.5" stroke="#111" stroke-width="2.8"/>
<line x1="1455.6" y1="610" x2="1455.6" y2="770" stroke="#111" stroke-width="2.8"/>
<line x1="1459.2" y1="610" x2="1459.2" y2="748" stroke="#111" stroke-width="1.2"/>
<line x1="1455.6" y1="1145" x2="1455.6" y2="1304.5" stroke="#111" stroke-width="2.4"/>
<line x1="1460.3" y1="1160" x2="1460.3" y2="1304.5" stroke="#111" stroke-width="1.2"/>
<line x1="1455.6" y1="748.1" x2="1557.2" y2="781.7" stroke="#111" stroke-width="1.3"/>
<path d="M1559,780 Q1605,776 1647,780.7 L1743.5,765.9" fill="none" stroke="#111" stroke-width="1.3"/>
<line x1="1455.9" y1="769.8" x2="1455.9" y2="957" stroke="#111" stroke-width="3.4"/>
<line x1="1455.9" y1="769.8" x2="1468.1" y2="769.8" stroke="#111" stroke-width="2.8"/>
<line x1="1468.1" y1="769.8" x2="1468.1" y2="957" stroke="#111" stroke-width="1.3"/>
<line x1="1468.1" y1="775.3" x2="1499.3" y2="784.7" stroke="#111" stroke-width="1.8"/>
<line x1="1499.3" y1="784.7" x2="1499.3" y2="957" stroke="#111" stroke-width="2.6"/>
<line x1="1508.8" y1="784.7" x2="1508.8" y2="957" stroke="#111" stroke-width="1.6"/>
<line x1="1499.3" y1="784.7" x2="1508.8" y2="784.7" stroke="#111" stroke-width="2.8"/>
<line x1="1512.9" y1="824" x2="1512.9" y2="957" stroke="#111" stroke-width="1.2"/>
<line x1="1515.6" y1="824" x2="1515.6" y2="957" stroke="#111" stroke-width="1.2"/>
<line x1="1542.7" y1="824" x2="1542.7" y2="957" stroke="#111" stroke-width="2.8"/>
<line x1="1509" y1="824" x2="1542.7" y2="824" stroke="#111" stroke-width="2.8"/>
<line x1="1509" y1="817.5" x2="1515.6" y2="824" stroke="#111" stroke-width="1.3"/>
<rect x="1510" y="806.5" width="28.6" height="9" fill="none" stroke="#111" stroke-width="1.8"/>
<line x1="1528" y1="806.5" x2="1528" y2="815.5" stroke="#111" stroke-width="1.4"/>
<line x1="1502" y1="811" x2="1548" y2="811" stroke="#111" stroke-width="0.8"/>
<line x1="1544" y1="802.4" x2="1544" y2="957" stroke="#111" stroke-width="1.3"/>
<line x1="1544" y1="802.4" x2="1557.6" y2="802.4" stroke="#111" stroke-width="1.8"/>
<polyline points="1567.1,780.7 1567.1,810.5 1595.6,810.5 1599.6,805 1599.6,780.7" fill="none" stroke="#111" stroke-width="2.2" stroke-linejoin="miter"/>
<polyline points="1603.7,780.7 1603.7,794.2 1607.8,799.6 1636.2,799.6 1636.2,780.7" fill="none" stroke="#111" stroke-width="2.2" stroke-linejoin="miter"/>
<line x1="1645.7" y1="780.7" x2="1645.7" y2="957" stroke="#111" stroke-width="1.3"/>
<line x1="1647.2" y1="788.8" x2="1647.2" y2="957" stroke="#111" stroke-width="2.2"/>
<line x1="1647.2" y1="788.8" x2="1706.7" y2="788.8" stroke="#111" stroke-width="2.8"/>
<line x1="1708" y1="778" x2="1708" y2="957" stroke="#111" stroke-width="2.8"/>
<rect x="1708" y="779.3" width="35.3" height="35.2" fill="none" stroke="#111" stroke-width="2.4"/>
<circle cx="1725.7" cy="797" r="9.5" fill="none" stroke="#111" stroke-width="2.4"/>
<line x1="1713" y1="797" x2="1738" y2="797" stroke="#111" stroke-width="0.8"/>
<line x1="1725.7" y1="786" x2="1725.7" y2="808" stroke="#111" stroke-width="0.8"/>
<rect x="1709.5" y="790" width="4" height="14" fill="none" stroke="#111" stroke-width="2.8"/>
<line x1="1708" y1="814.5" x2="1868" y2="814.5" stroke="#111" stroke-width="1.4"/>
<line x1="1709.4" y1="835.4" x2="1866.7" y2="835.4" stroke="#111" stroke-width="1.4"/>
<line x1="1804.3" y1="687.5" x2="1804.3" y2="814.5" stroke="#111" stroke-width="1.4"/>
<line x1="1829.5" y1="687.5" x2="1829.5" y2="814.5" stroke="#111" stroke-width="1.4"/>
<line x1="1795" y1="687.5" x2="1833" y2="687.5" stroke="#111" stroke-width="1.4"/>
<line x1="1745" y1="810.5" x2="1760" y2="810.5" stroke="#111" stroke-width="1.0"/>
<line x1="1455.6" y1="1167.3" x2="1557.2" y2="1133.7" stroke="#111" stroke-width="1.3"/>
<path d="M1559,1131.6 Q1600,1124 1646.4,1133 L1708.6,1138.3 L1745,1143" fill="none" stroke="#111" stroke-width="1.3"/>
<line x1="1455.9" y1="1145.6" x2="1455.9" y2="958.4" stroke="#111" stroke-width="3.4"/>
<line x1="1455.9" y1="1145.6" x2="1468.1" y2="1145.6" stroke="#111" stroke-width="2.8"/>
<line x1="1468.1" y1="1145.6" x2="1468.1" y2="958.4" stroke="#111" stroke-width="1.3"/>
<line x1="1468.1" y1="1140.1" x2="1499.3" y2="1130.7" stroke="#111" stroke-width="1.8"/>
<line x1="1499.3" y1="1130.7" x2="1499.3" y2="958.4" stroke="#111" stroke-width="2.6"/>
<line x1="1508.8" y1="1130.7" x2="1508.8" y2="958.4" stroke="#111" stroke-width="1.6"/>
<line x1="1499.3" y1="1130.7" x2="1508.8" y2="1130.7" stroke="#111" stroke-width="2.8"/>
<line x1="1512.9" y1="1091.4" x2="1512.9" y2="958.4" stroke="#111" stroke-width="1.2"/>
<line x1="1515.6" y1="1091.4" x2="1515.6" y2="958.4" stroke="#111" stroke-width="1.2"/>
<line x1="1542.7" y1="1091.4" x2="1542.7" y2="958.4" stroke="#111" stroke-width="2.8"/>
<line x1="1509" y1="1091.4" x2="1542.7" y2="1091.4" stroke="#111" stroke-width="2.8"/>
<line x1="1509" y1="1097.9" x2="1515.6" y2="1091.4" stroke="#111" stroke-width="1.3"/>
<rect x="1510" y="1099.9" width="28.6" height="9" fill="none" stroke="#111" stroke-width="1.8"/>
<line x1="1528" y1="1099.9" x2="1528" y2="1108.9" stroke="#111" stroke-width="1.4"/>
<line x1="1502" y1="1104.4" x2="1548" y2="1104.4" stroke="#111" stroke-width="0.8"/>
<line x1="1544" y1="1113" x2="1544" y2="958.4" stroke="#111" stroke-width="1.3"/>
<line x1="1544" y1="1113" x2="1557.6" y2="1113" stroke="#111" stroke-width="1.8"/>
<polyline points="1567.3,1130 1567.3,1115.3 1594.6,1115.3 1599.4,1120.6 1599.4,1129" fill="none" stroke="#111" stroke-width="2.2" stroke-linejoin="miter"/>
<polyline points="1603.7,1129 1603.7,1112 1609,1104.3 1635.8,1104.3 1635.8,1131" fill="none" stroke="#111" stroke-width="2.2" stroke-linejoin="miter"/>
<line x1="1645.7" y1="1134.7" x2="1645.7" y2="958.4" stroke="#111" stroke-width="1.3"/>
<line x1="1647.2" y1="1126.6" x2="1647.2" y2="958.4" stroke="#111" stroke-width="2.2"/>
<line x1="1647.2" y1="1126.6" x2="1706.7" y2="1126.6" stroke="#111" stroke-width="2.8"/>
<line x1="1708" y1="1137.4" x2="1708" y2="958.4" stroke="#111" stroke-width="2.8"/>
<rect x="1708" y="1100.9" width="35.3" height="35.2" fill="none" stroke="#111" stroke-width="2.4"/>
<circle cx="1725.7" cy="1118.4" r="9.5" fill="none" stroke="#111" stroke-width="2.4"/>
<line x1="1713" y1="1118.4" x2="1738" y2="1118.4" stroke="#111" stroke-width="0.8"/>
<line x1="1725.7" y1="1129.4" x2="1725.7" y2="1107.4" stroke="#111" stroke-width="0.8"/>
<rect x="1709.5" y="1111.4" width="4" height="14" fill="none" stroke="#111" stroke-width="2.8"/>
<line x1="1708" y1="1100.9" x2="1868" y2="1100.9" stroke="#111" stroke-width="1.4"/>
<line x1="1709.4" y1="1080" x2="1866.7" y2="1080" stroke="#111" stroke-width="1.4"/>
<line x1="1804.3" y1="1227.9" x2="1804.3" y2="1100.9" stroke="#111" stroke-width="1.4"/>
<line x1="1829.5" y1="1227.9" x2="1829.5" y2="1100.9" stroke="#111" stroke-width="1.4"/>
<line x1="1795" y1="1227.9" x2="1833" y2="1227.9" stroke="#111" stroke-width="1.4"/>
<line x1="1745" y1="1104.9" x2="1760" y2="1104.9" stroke="#111" stroke-width="1.0"/>
<line x1="1709.4" y1="835.4" x2="1709.4" y2="1081" stroke="#111" stroke-width="1.4"/>
<line x1="1866.7" y1="835.4" x2="1866.7" y2="1081" stroke="#111" stroke-width="1.4"/>
<line x1="1868.2" y1="814.5" x2="1868.2" y2="1100" stroke="#111" stroke-width="1.4"/>
<line x1="1708.7" y1="609.8" x2="1708.7" y2="770" stroke="#111" stroke-width="2.8"/>
<line x1="1710.4" y1="616.4" x2="1710.4" y2="770" stroke="#111" stroke-width="1.2"/>
<line x1="1718.4" y1="617" x2="1718.4" y2="768" stroke="#111" stroke-width="2.8"/>
<line x1="1745" y1="619.2" x2="1745" y2="766" stroke="#111" stroke-width="2.8"/>
<line x1="1718.4" y1="619.2" x2="1745" y2="619.2" stroke="#111" stroke-width="2.4"/>
<line x1="1710.4" y1="617" x2="1718.7" y2="617" stroke="#111" stroke-width="2.2"/>
<line x1="1696.5" y1="609.8" x2="1709.2" y2="609.8" stroke="#111" stroke-width="2.4"/>
<line x1="1696.5" y1="600.9" x2="1696.5" y2="609.8" stroke="#111" stroke-width="2.2"/>
<line x1="1687.6" y1="632.5" x2="1687.6" y2="774" stroke="#111" stroke-width="1.6"/>
<line x1="1653.8" y1="569.3" x2="1699.3" y2="569.3" stroke="#111" stroke-width="2.6"/>
<line x1="1699.3" y1="569.3" x2="1699.3" y2="588.7" stroke="#111" stroke-width="2.4"/>
<line x1="1684" y1="1138" x2="1684" y2="1420" stroke="#111" stroke-width="1.3"/>
<line x1="1687.4" y1="1138" x2="1687.4" y2="1420" stroke="#111" stroke-width="1.3"/>
<line x1="1699.2" y1="1140" x2="1699.2" y2="1324.3" stroke="#111" stroke-width="2.2"/>
<line x1="1705.6" y1="1140" x2="1705.6" y2="1305" stroke="#111" stroke-width="2.0"/>
<line x1="1708.8" y1="1140" x2="1708.8" y2="1305" stroke="#111" stroke-width="2.2"/>
<line x1="1718.4" y1="1140" x2="1718.4" y2="1298" stroke="#111" stroke-width="2.6"/>
<line x1="1699.2" y1="1324.3" x2="1706" y2="1324.3" stroke="#111" stroke-width="2.2"/>
<line x1="1708.8" y1="1298" x2="1718.4" y2="1298" stroke="#111" stroke-width="2.2"/>
<line x1="1744.9" y1="1137" x2="1744.9" y2="1298" stroke="#111" stroke-width="2.4"/>
<line x1="1718.4" y1="1298" x2="1744.9" y2="1298" stroke="#111" stroke-width="2.4"/>
<rect x="1748.9" y="1104" width="20.8" height="189.8" fill="none" stroke="#111" stroke-width="2.2"/>
<rect x="1746.5" y="1172" width="28.8" height="53.8" fill="none" stroke="#111" stroke-width="3.0"/>
<line x1="1767" y1="1158" x2="1767" y2="1240" stroke="#111" stroke-width="2.0"/>
<line x1="1717" y1="1199" x2="1786" y2="1199" stroke="#111" stroke-width="0.8" stroke-dasharray="14 4 3 4"/>
<line x1="1775.3" y1="1100" x2="1775.3" y2="1293" stroke="#111" stroke-width="1.3"/>
<line x1="1775.3" y1="1100" x2="1803.3" y2="1100" stroke="#111" stroke-width="1.3"/>
<line x1="1804.1" y1="1100" x2="1804.1" y2="1221" stroke="#111" stroke-width="1.3"/>
<line x1="1804" y1="1221" x2="1829.8" y2="1221" stroke="#111" stroke-width="1.3"/>
<line x1="1795" y1="1226" x2="1985" y2="1226" stroke="#111" stroke-width="1.2"/>
<line x1="1804" y1="1229" x2="2026" y2="1229" stroke="#111" stroke-width="1.2"/>
<line x1="1829.8" y1="1108" x2="1829.8" y2="1300" stroke="#111" stroke-width="1.3"/>
<line x1="1833" y1="1100" x2="1833" y2="1300" stroke="#111" stroke-width="1.3"/>
<line x1="1833" y1="1100" x2="1943.5" y2="1100" stroke="#111" stroke-width="1.3"/>
<line x1="1769.7" y1="1293.8" x2="1943" y2="1293.8" stroke="#111" stroke-width="1.2"/>
<line x1="1804" y1="687.5" x2="2029" y2="687.5" stroke="#111" stroke-width="1.2"/>
<line x1="1795" y1="685.5" x2="1806" y2="685.5" stroke="#111" stroke-width="1.2"/>
<line x1="1829" y1="814.3" x2="1943" y2="814.3" stroke="#111" stroke-width="1.2"/>
<line x1="1804" y1="694" x2="1829" y2="694" stroke="#111" stroke-width="1.2"/>
<line x1="1699" y1="568.8" x2="2079" y2="568.8" stroke="#111" stroke-width="1.2"/>
<line x1="1700" y1="1345.5" x2="2079" y2="1345.5" stroke="#111" stroke-width="1.2"/>
<circle cx="1692.1" cy="591.5" r="72" fill="none" stroke="#111" stroke-width="1.2"/>
<circle cx="1684.9" cy="544.3" r="17.7" fill="none" stroke="#111" stroke-width="1.2"/>
<rect x="1679.3" y="537.7" width="7.8" height="14.4" fill="none" stroke="#111" stroke-width="2.2"/>
<path d="M1684.3,520.5 Q1672,522 1667.7,527.2 L1653.8,568.7" fill="none" stroke="#111" stroke-width="1.6"/>
<path d="M1649,596.5 A24.4,24.4 0 0 1 1689,588.5" fill="none" stroke="#111" stroke-width="2.4"/>
<path d="M1697,600 A24.4,24.4 0 0 1 1674.5,629.5" fill="none" stroke="#111" stroke-width="2.4"/>
<line x1="1647.7" y1="587.6" x2="1656.6" y2="587.6" stroke="#111" stroke-width="2.6"/>
<polyline points="1664.3,588.7 1706.5,588.7 1706.5,600.3" fill="none" stroke="#111" stroke-width="1.3" stroke-linejoin="miter"/>
<path d="M1706.5,600.3 Q1680,603 1666.5,597.6" fill="none" stroke="#111" stroke-width="1.3"/>
<line x1="1679.9" y1="578.7" x2="1697.6" y2="578.7" stroke="#111" stroke-width="1.2"/>
<line x1="1679.9" y1="578.7" x2="1675" y2="582" stroke="#111" stroke-width="1.2"/>
<polyline points="1649.4,575.4 1647.7,587.6 1648.3,596.5 1653.3,606.4 1656.6,615.3 1674.3,629.7" fill="none" stroke="#111" stroke-width="1.3" stroke-linejoin="miter"/>
<line x1="1651.6" y1="581.5" x2="1667.7" y2="599.2" stroke="#111" stroke-width="1.1"/>
<line x1="1657.1" y1="615.3" x2="1706.5" y2="600.3" stroke="#111" stroke-width="1.1"/>
<line x1="1675.4" y1="606.4" x2="1691" y2="627.5" stroke="#111" stroke-width="1.1"/>
<line x1="1652.7" y1="605.3" x2="1664.3" y2="592" stroke="#111" stroke-width="1.1"/>
<line x1="1675.4" y1="631.4" x2="1745.3" y2="638" stroke="#111" stroke-width="1.3"/>
<line x1="1403" y1="957.7" x2="2180" y2="957.7" stroke="#111" stroke-width="1.2" stroke-dasharray="44 6 5 6"/>
<line x1="1404.4" y1="866.6" x2="1541.4" y2="866.6" stroke="#111" stroke-width="1.25"/>
<polygon points="1500,866.6 1487,869.2 1487,864" fill="#111"/>
<polygon points="1512.9,866.6 1525.9,864 1525.9,869.2" fill="#111"/>
<text x="1409" y="863.4" font-family="Liberation Sans" font-size="26" fill="#000" font-weight="normal" text-anchor="start" textLength="14" lengthAdjust="spacingAndGlyphs" stroke="#fff" stroke-width="0.75">3</text>
<line x1="1403" y1="917.6" x2="1507.5" y2="917.6" stroke="#111" stroke-width="1.25"/>
<polygon points="1455.9,917.6 1468.9,915 1468.9,920.2" fill="#111"/>
<polygon points="1499.3,917.6 1486.3,920.2 1486.3,915" fill="#111"/>
<text x="1407" y="913.6" font-family="Liberation Sans" font-size="26" fill="#000" font-weight="normal" text-anchor="start" textLength="30" lengthAdjust="spacingAndGlyphs" stroke="#fff" stroke-width="0.75">30</text>
<line x1="1480.3" y1="931.2" x2="1609" y2="931.2" stroke="#111" stroke-width="1.25"/>
<polygon points="1508.8,931.2 1495.8,933.8 1495.8,928.6" fill="#111"/>
<polygon points="1557.2,931.2 1570.2,928.6 1570.2,933.8" fill="#111"/>
<text x="1575" y="927" font-family="Liberation Sans" font-size="26" fill="#000" font-weight="normal" text-anchor="start" textLength="31" lengthAdjust="spacingAndGlyphs" stroke="#fff" stroke-width="0.75">20</text>
<line x1="1426" y1="996.3" x2="1621" y2="996.3" stroke="#111" stroke-width="1.25"/>
<polygon points="1455.9,996.3 1442.9,998.9 1442.9,993.7" fill="#111"/>
<polygon points="1468.1,996.3 1481.1,993.7 1481.1,998.9" fill="#111"/>
<text x="1583" y="993.5" font-family="Liberation Sans" font-size="26" fill="#000" font-weight="normal" text-anchor="start" textLength="38" lengthAdjust="spacingAndGlyphs" stroke="#fff" stroke-width="0.75">7.5</text>
<line x1="1709.4" y1="895.9" x2="1866.7" y2="895.9" stroke="#111" stroke-width="1.25"/>
<polygon points="1709.4,895.9 1722.4,893.3 1722.4,898.5" fill="#111"/>
<polygon points="1866.7,895.9 1853.7,898.5 1853.7,893.3" fill="#111"/>
<text x="1773" y="891.8" font-family="Liberation Sans" font-size="26" fill="#000" font-weight="normal" text-anchor="start" textLength="30" lengthAdjust="spacingAndGlyphs" stroke="#fff" stroke-width="0.75">90</text>
<line x1="1827.9" y1="835.4" x2="1827.9" y2="1081" stroke="#111" stroke-width="1.25"/>
<polygon points="1827.9,835.4 1830.5,848.4 1825.3,848.4" fill="#111"/>
<polygon points="1827.9,1081 1825.3,1068 1830.5,1068" fill="#111"/>
<text x="1824.6" y="1023" font-family="Liberation Sans" font-size="26" fill="#000" font-weight="normal" text-anchor="start" transform="rotate(-90 1824.6 1023)" textLength="61" lengthAdjust="spacingAndGlyphs" stroke="#fff" stroke-width="0.75">ø138</text>
<line x1="1941.2" y1="814.3" x2="1941.2" y2="1099.7" stroke="#111" stroke-width="1.25"/>
<polygon points="1941.2,814.3 1943.8,827.3 1938.6,827.3" fill="#111"/>
<polygon points="1941.2,1099.7 1938.6,1086.7 1943.8,1086.7" fill="#111"/>
<text x="1932.6" y="1049.5" font-family="Liberation Sans" font-size="26" fill="#000" font-weight="normal" text-anchor="start" transform="rotate(-90 1932.6 1049.5)" textLength="112" lengthAdjust="spacingAndGlyphs" stroke="#fff" stroke-width="0.75">ø160h6(</text>
<text x="1916.2" y="945" font-family="Liberation Sans" font-size="19" fill="#000" font-weight="normal" text-anchor="start" transform="rotate(-90 1916.2 945)" textLength="10" lengthAdjust="spacingAndGlyphs" stroke="#fff" stroke-width="0.35">0</text>
<text x="1932.6" y="935" font-family="Liberation Sans" font-size="19" fill="#000" font-weight="normal" text-anchor="start" transform="rotate(-90 1932.6 935)" textLength="70" lengthAdjust="spacingAndGlyphs" stroke="#fff" stroke-width="0.35">–0.025)</text>
<line x1="1983.5" y1="689" x2="1983.5" y2="1226" stroke="#111" stroke-width="1.25"/>
<polygon points="1983.5,689 1986.1,702 1980.9,702" fill="#111"/>
<polygon points="1983.5,1226 1980.9,1213 1986.1,1213" fill="#111"/>
<text x="1981" y="996" font-family="Liberation Sans" font-size="26" fill="#000" font-weight="normal" text-anchor="start" transform="rotate(-90 1981 996)" textLength="62" lengthAdjust="spacingAndGlyphs" stroke="#fff" stroke-width="0.75">ø300</text>
<line x1="2025.8" y1="685.5" x2="2025.8" y2="1229" stroke="#111" stroke-width="1.25"/>
<polygon points="2025.8,685.5 2028.4,698.5 2023.2,698.5" fill="#111"/>
<polygon points="2025.8,1229 2023.2,1216 2028.4,1216" fill="#111"/>
<text x="2023.2" y="994.3" font-family="Liberation Sans" font-size="26" fill="#000" font-weight="normal" text-anchor="start" transform="rotate(-90 2023.2 994.3)" textLength="64" lengthAdjust="spacingAndGlyphs" stroke="#fff" stroke-width="0.75">ø304</text>
<line x1="2077.5" y1="568.8" x2="2077.5" y2="1345.5" stroke="#111" stroke-width="1.25"/>
<polygon points="2077.5,568.8 2080.1,581.8 2074.9,581.8" fill="#111"/>
<polygon points="2077.5,1345.5 2074.9,1332.5 2080.1,1332.5" fill="#111"/>
<text x="2074.1" y="1024.5" font-family="Liberation Sans" font-size="26" fill="#000" font-weight="normal" text-anchor="start" transform="rotate(-90 2074.1 1024.5)" textLength="59" lengthAdjust="spacingAndGlyphs" stroke="#fff" stroke-width="0.75">ø435</text>
<text x="2056.8" y="963" font-family="Liberation Sans" font-size="19" fill="#000" font-weight="normal" text-anchor="start" transform="rotate(-90 2056.8 963)" textLength="10" lengthAdjust="spacingAndGlyphs" stroke="#fff" stroke-width="0.35">0</text>
<text x="2074.1" y="963.2" font-family="Liberation Sans" font-size="19" fill="#000" font-weight="normal" text-anchor="start" transform="rotate(-90 2074.1 963.2)" textLength="73" lengthAdjust="spacingAndGlyphs" stroke="#fff" stroke-width="0.35">–0.045</text>
<line x1="2128.4" y1="493.5" x2="2128.4" y2="1421" stroke="#111" stroke-width="1.25"/>
<polygon points="2128.4,493.5 2131,506.5 2125.8,506.5" fill="#111"/>
<polygon points="2128.4,1421 2125.8,1408 2131,1408" fill="#111"/>
<text x="2119.8" y="1052" font-family="Liberation Sans" font-size="26" fill="#000" font-weight="normal" text-anchor="start" transform="rotate(-90 2119.8 1052)" textLength="112" lengthAdjust="spacingAndGlyphs" stroke="#fff" stroke-width="0.75">ø520h7(</text>
<text x="2102.6" y="951" font-family="Liberation Sans" font-size="19" fill="#000" font-weight="normal" text-anchor="start" transform="rotate(-90 2102.6 951)" textLength="10" lengthAdjust="spacingAndGlyphs" stroke="#fff" stroke-width="0.35">0</text>
<text x="2119.8" y="942" font-family="Liberation Sans" font-size="19" fill="#000" font-weight="normal" text-anchor="start" transform="rotate(-90 2119.8 942)" textLength="63" lengthAdjust="spacingAndGlyphs" stroke="#fff" stroke-width="0.35">–0.07)</text>
<line x1="1938.7" y1="1128" x2="1938.7" y2="1294.6" stroke="#111" stroke-width="1.25"/>
<polygon points="1938.7,1294.6 1936.1,1281.6 1941.3,1281.6" fill="#111"/>
<text x="1936.3" y="1195.3" font-family="Liberation Sans" font-size="26" fill="#000" font-weight="normal" text-anchor="start" transform="rotate(-90 1936.3 1195.3)" textLength="65" lengthAdjust="spacingAndGlyphs" stroke="#fff" stroke-width="0.75">ø378</text>
<path d="M1340,581.2 A117.8,117.8 0 0 0 1369.5,693.1" fill="none" stroke="#111" stroke-width="1.2"/>
<line x1="1454.3" y1="611.3" x2="1353.3" y2="669" stroke="#111" stroke-width="1.2"/>
<polygon points="1336.6,609.5 1335.5,596.3 1340.7,596.9" fill="#111"/>
<polygon points="1356,671.5 1365.8,680.5 1361.6,683.5" fill="#111"/>
<text x="1344" y="623" font-family="Liberation Sans" font-size="24" fill="#000" font-weight="normal" text-anchor="start" transform="rotate(72 1344 623)" textLength="36" lengthAdjust="spacingAndGlyphs" stroke="#fff" stroke-width="0.75">30°</text>
<path d="M1393,1062 A100,100 0 0 0 1423.4,1176.6" fill="none" stroke="#111" stroke-width="1.2"/>
<line x1="1510" y1="1092.5" x2="1408.5" y2="1152.2" stroke="#111" stroke-width="1.2"/>
<polygon points="1392,1092.5 1389.9,1079.4 1395.1,1079.6" fill="#111"/>
<polygon points="1410.5,1150.5 1418.9,1160.8 1414.3,1163.2" fill="#111"/>
<text x="1398" y="1103" font-family="Liberation Sans" font-size="24" fill="#000" font-weight="normal" text-anchor="start" transform="rotate(72 1398 1103)" textLength="36" lengthAdjust="spacingAndGlyphs" stroke="#fff" stroke-width="0.75">30°</text>
<line x1="1255.7" y1="1460" x2="1388" y2="1460" stroke="#111" stroke-width="1.25"/>
<line x1="1388" y1="1460" x2="1468" y2="1382" stroke="#111" stroke-width="1.25"/>
<polygon points="1468,1382.5 1460.5,1393.5 1456.9,1389.8" fill="#111"/>
<text x="1270" y="1453.6" font-family="Liberation Sans" font-size="26" fill="#000" font-weight="normal" text-anchor="start" textLength="95" lengthAdjust="spacingAndGlyphs" stroke="#fff" stroke-width="0.75">C1.5~2</text>
<line x1="1400" y1="1485.7" x2="1490" y2="1485.7" stroke="#111" stroke-width="1.25"/>
<line x1="1490" y1="1485.7" x2="1556" y2="1384" stroke="#111" stroke-width="1.25"/>
<polygon points="1556.5,1384 1551.7,1396.4 1547.3,1393.6" fill="#111"/>
<text x="1400" y="1481.5" font-family="Liberation Sans" font-size="26" fill="#000" font-weight="normal" text-anchor="start" textLength="86" lengthAdjust="spacingAndGlyphs" stroke="#fff" stroke-width="0.75">R1MAX</text>
<polyline points="1558.6,1421.4 1530,1500.7 1723.6,1500.7 1686,1421.4" fill="none" stroke="#111" stroke-width="1.2" stroke-linejoin="miter"/>
<polygon points="1558.6,1421.4 1556.5,1434.5 1551.6,1432.7" fill="#111"/>
<polygon points="1686,1421.4 1694.1,1431.9 1689.4,1434.2" fill="#111"/>
<text x="1571.8" y="1494.6" font-family="Liberation Sans" font-size="26" fill="#000" font-weight="normal" text-anchor="start" textLength="95" lengthAdjust="spacingAndGlyphs" stroke="#fff" stroke-width="0.75">C1.5~2</text>
<line x1="1687.9" y1="1421" x2="1687.9" y2="1665" stroke="#111" stroke-width="1.25"/>
<line x1="1768.2" y1="1228" x2="1768.2" y2="1560" stroke="#111" stroke-width="1.25"/>
<line x1="1774.6" y1="1300" x2="1774.6" y2="1609" stroke="#111" stroke-width="1.25"/>
<line x1="1507.5" y1="1555.4" x2="1768.2" y2="1555.4" stroke="#111" stroke-width="1.25"/>
<polygon points="1687.9,1555.4 1700.9,1552.8 1700.9,1558" fill="#111"/>
<polygon points="1768.2,1555.4 1755.2,1558 1755.2,1552.8" fill="#111"/>
<text x="1511" y="1551.8" font-family="Liberation Sans" font-size="26" fill="#000" font-weight="normal" text-anchor="start" textLength="112" lengthAdjust="spacingAndGlyphs" stroke="#fff" stroke-width="0.75">47.5MAX</text>
<line x1="1515.7" y1="1589.3" x2="1774.6" y2="1589.3" stroke="#111" stroke-width="1.25"/>
<polygon points="1687.9,1589.3 1700.9,1586.7 1700.9,1591.9" fill="#111"/>
<polygon points="1774.6,1589.3 1761.6,1591.9 1761.6,1586.7" fill="#111"/>
<text x="1518" y="1585.7" font-family="Liberation Sans" font-size="26" fill="#000" font-weight="normal" text-anchor="start" textLength="88" lengthAdjust="spacingAndGlyphs" stroke="#fff" stroke-width="0.75">50MAX</text>
<line x1="1687.9" y1="1655.4" x2="1832.5" y2="1655.4" stroke="#111" stroke-width="1.25"/>
<polygon points="1687.9,1655.4 1700.9,1652.8 1700.9,1658" fill="#111"/>
<polygon points="1832.5,1655.4 1819.5,1658 1819.5,1652.8" fill="#111"/>
<text x="1705.7" y="1651.8" font-family="Liberation Sans" font-size="26" fill="#000" font-weight="normal" text-anchor="start" textLength="109" lengthAdjust="spacingAndGlyphs" stroke="#fff" stroke-width="0.75">81.7MAX</text>
<line x1="1832.5" y1="1293" x2="1832.5" y2="1660" stroke="#111" stroke-width="1.25"/>
<line x1="1804" y1="1228.6" x2="1804" y2="1527" stroke="#111" stroke-width="1.25"/>
<line x1="1829" y1="1293" x2="1829" y2="1527" stroke="#111" stroke-width="1.25"/>
<line x1="1868.2" y1="1100" x2="1868.2" y2="1570" stroke="#111" stroke-width="1.25"/>
<line x1="1800" y1="1473.2" x2="1896.8" y2="1473.2" stroke="#111" stroke-width="1.25"/>
<polygon points="1829,1473.2 1816,1475.8 1816,1470.6" fill="#111"/>
<polygon points="1833,1473.2 1846,1470.6 1846,1475.8" fill="#111"/>
<text x="1879" y="1469.6" font-family="Liberation Sans" font-size="26" fill="#000" font-weight="normal" text-anchor="start" textLength="14" lengthAdjust="spacingAndGlyphs" stroke="#fff" stroke-width="0.75">2</text>
<line x1="1775.5" y1="1515.4" x2="1914.6" y2="1515.4" stroke="#111" stroke-width="1.25"/>
<polygon points="1804,1515.4 1791,1518 1791,1512.8" fill="#111"/>
<polygon points="1829,1515.4 1842,1512.8 1842,1518" fill="#111"/>
<text x="1880.7" y="1512.5" font-family="Liberation Sans" font-size="26" fill="#000" font-weight="normal" text-anchor="start" textLength="28" lengthAdjust="spacingAndGlyphs" stroke="#fff" stroke-width="0.75">14</text>
<line x1="1832.5" y1="1566" x2="1920" y2="1566" stroke="#111" stroke-width="1.25"/>
<polygon points="1832.5,1566 1845.5,1563.4 1845.5,1568.6" fill="#111"/>
<polygon points="1868.2,1566 1855.2,1568.6 1855.2,1563.4" fill="#111"/>
<text x="1884" y="1562.5" font-family="Liberation Sans" font-size="26" fill="#000" font-weight="normal" text-anchor="start" textLength="30" lengthAdjust="spacingAndGlyphs" stroke="#fff" stroke-width="0.75">20</text>
<line x1="1995" y1="1488.3" x2="1817" y2="1226" stroke="#111" stroke-width="1.25"/>
<polygon points="1817,1226 1826.4,1235.3 1822.1,1238.2" fill="#111"/>
<line x1="1995" y1="1488.3" x2="2221.7" y2="1488.3" stroke="#111" stroke-width="1.25"/>
<text x="1999.8" y="1477.8" font-family="Liberation Sans" font-size="26" fill="#000" font-weight="normal" text-anchor="start" textLength="217" lengthAdjust="spacingAndGlyphs" stroke="#fff" stroke-width="0.75">m=2,z=150,x=0</text>
<text x="1811.6" y="372" font-family="Liberation Sans" font-size="24" fill="#000" font-weight="normal" text-anchor="start" textLength="13" lengthAdjust="spacingAndGlyphs" stroke="#fff" stroke-width="0.75">K</text>
<line x1="1801.2" y1="376" x2="1832.6" y2="376" stroke="#111" stroke-width="1.25"/>
<line x1="1801.2" y1="376" x2="1698.4" y2="527.5" stroke="#111" stroke-width="1.25"/>
<polygon points="1698.4,527.5 1703.4,515.2 1707.8,518.1" fill="#111"/>
<text x="1815" y="416" font-family="Liberation Sans" font-size="24" fill="#000" font-weight="normal" text-anchor="start" textLength="10" lengthAdjust="spacingAndGlyphs" stroke="#fff" stroke-width="0.75">J</text>
<line x1="1810" y1="421.2" x2="1827.3" y2="421.2" stroke="#111" stroke-width="1.25"/>
<line x1="1810" y1="421.2" x2="1733.2" y2="529.2" stroke="#111" stroke-width="1.25"/>
<polygon points="1733.2,529.2 1738.1,516.9 1742.5,519.7" fill="#111"/>
<line x1="1835" y1="442.7" x2="1926.8" y2="442.7" stroke="#111" stroke-width="1.25"/>
<line x1="1835" y1="442.7" x2="1728.7" y2="777.7" stroke="#111" stroke-width="1.25"/>
<polygon points="1728.7,777.7 1730,764.5 1735,766" fill="#111"/>
<text x="1890.2" y="429.7" font-family="Liberation Serif" font-size="33" fill="#000" font-weight="normal" text-anchor="start" textLength="65.2" lengthAdjust="spacingAndGlyphs">DEEP</text>
<text x="1972.1" y="429.7" font-family="Liberation Serif" font-size="33" fill="#000" font-weight="normal" text-anchor="start" textLength="97.1" lengthAdjust="spacingAndGlyphs">GROOVE</text>
<text x="2087.5" y="429.7" font-family="Liberation Serif" font-size="33" fill="#000" font-weight="normal" text-anchor="start" textLength="64.6" lengthAdjust="spacingAndGlyphs">BALL</text>
<text x="2168.7" y="429.7" font-family="Liberation Serif" font-size="33" fill="#000" font-weight="normal" text-anchor="start" textLength="114.8" lengthAdjust="spacingAndGlyphs">BEARING</text>
<text x="1955" y="467.2" font-family="Liberation Sans" font-size="31" fill="#000" font-weight="normal" text-anchor="start" textLength="109" lengthAdjust="spacingAndGlyphs" stroke="#fff" stroke-width="0.75">(61832)</text>
<path d="M2256,957.8 a390.5,390.5 0 1 0 781,0 a390.5,390.5 0 1 0 -781,0 Z M2299,957.8 a347.5,347.5 0 1 1 695,0 a347.5,347.5 0 1 1 -695,0 Z" fill="url(#xh)" fill-rule="evenodd" stroke="none"/>
<circle cx="2646.5" cy="957.8" r="463.5" fill="none" stroke="#111" stroke-width="2.8"/>
<circle cx="2646.5" cy="957.8" r="423" fill="none" stroke="#111" stroke-width="2.8"/>
<circle cx="2646.5" cy="957.8" r="390.5" fill="none" stroke="#111" stroke-width="2.8"/>
<circle cx="2646.5" cy="957.8" r="347.5" fill="none" stroke="#111" stroke-width="2.8"/>
<circle cx="2646.5" cy="957.8" r="441.5" fill="none" stroke="#111" stroke-width="1.0" stroke-dasharray="38 5 4 5"/>
<circle cx="2646.5" cy="957.8" r="285.8" fill="none" stroke="#111" stroke-width="1.0" stroke-dasharray="30 5 4 5"/>
<circle cx="2646.5" cy="957.8" r="241" fill="none" stroke="#111" stroke-width="1.0" stroke-dasharray="30 5 4 5"/>
<circle cx="2646.5" cy="957.8" r="147" fill="none" stroke="#111" stroke-width="1.0" stroke-dasharray="24 5 4 5"/>
<circle cx="2646.5" cy="957.8" r="186.5" fill="none" stroke="#111" stroke-width="2.8"/>
<circle cx="2646.5" cy="957.8" r="180.5" fill="none" stroke="#111" stroke-width="2.8"/>
<circle cx="2646.5" cy="957.8" r="172.5" fill="none" stroke="#111" stroke-width="2.8"/>
<circle cx="2646.5" cy="957.8" r="133" fill="none" stroke="#111" stroke-width="2.8"/>
<circle cx="2646.5" cy="516.3" r="11.5" fill="#fff" stroke="#111" stroke-width="2.2"/>
<line x1="2646.5" y1="535.8" x2="2646.5" y2="496.8" stroke="#111" stroke-width="0.9"/>
<line x1="2627" y1="516.3" x2="2666" y2="516.3" stroke="#111" stroke-width="0.9"/>
<circle cx="2760.8" cy="531.3" r="11.5" fill="#fff" stroke="#111" stroke-width="2.2"/>
<line x1="2755.7" y1="550.2" x2="2765.8" y2="512.5" stroke="#111" stroke-width="0.9"/>
<line x1="2741.9" y1="526.3" x2="2779.6" y2="536.4" stroke="#111" stroke-width="0.9"/>
<circle cx="2867.2" cy="575.4" r="11.5" fill="#fff" stroke="#111" stroke-width="2.2"/>
<line x1="2857.5" y1="592.3" x2="2877" y2="558.6" stroke="#111" stroke-width="0.9"/>
<line x1="2850.4" y1="565.7" x2="2884.1" y2="585.2" stroke="#111" stroke-width="0.9"/>
<circle cx="2958.7" cy="645.6" r="11.5" fill="#fff" stroke="#111" stroke-width="2.2"/>
<line x1="2944.9" y1="659.4" x2="2972.5" y2="631.8" stroke="#111" stroke-width="0.9"/>
<line x1="2944.9" y1="631.8" x2="2972.5" y2="659.4" stroke="#111" stroke-width="0.9"/>
<circle cx="3028.9" cy="737" r="11.5" fill="#fff" stroke="#111" stroke-width="2.2"/>
<line x1="3012" y1="746.8" x2="3045.7" y2="727.3" stroke="#111" stroke-width="0.9"/>
<line x1="3019.1" y1="720.2" x2="3038.6" y2="753.9" stroke="#111" stroke-width="0.9"/>
<circle cx="3073" cy="843.5" r="11.5" fill="#fff" stroke="#111" stroke-width="2.2"/>
<line x1="3054.1" y1="848.6" x2="3091.8" y2="838.5" stroke="#111" stroke-width="0.9"/>
<line x1="3067.9" y1="824.7" x2="3078" y2="862.4" stroke="#111" stroke-width="0.9"/>
<circle cx="3088" cy="957.8" r="11.5" fill="#fff" stroke="#111" stroke-width="2.2"/>
<line x1="3068.5" y1="957.8" x2="3107.5" y2="957.8" stroke="#111" stroke-width="0.9"/>
<line x1="3088" y1="938.3" x2="3088" y2="977.3" stroke="#111" stroke-width="0.9"/>
<circle cx="3073" cy="1072.1" r="11.5" fill="#fff" stroke="#111" stroke-width="2.2"/>
<line x1="3054.1" y1="1067" x2="3091.8" y2="1077.1" stroke="#111" stroke-width="0.9"/>
<line x1="3078" y1="1053.2" x2="3067.9" y2="1090.9" stroke="#111" stroke-width="0.9"/>
<circle cx="3028.9" cy="1178.5" r="11.5" fill="#fff" stroke="#111" stroke-width="2.2"/>
<line x1="3012" y1="1168.8" x2="3045.7" y2="1188.3" stroke="#111" stroke-width="0.9"/>
<line x1="3038.6" y1="1161.7" x2="3019.1" y2="1195.4" stroke="#111" stroke-width="0.9"/>
<circle cx="2958.7" cy="1270" r="11.5" fill="#fff" stroke="#111" stroke-width="2.2"/>
<line x1="2944.9" y1="1256.2" x2="2972.5" y2="1283.8" stroke="#111" stroke-width="0.9"/>
<line x1="2972.5" y1="1256.2" x2="2944.9" y2="1283.8" stroke="#111" stroke-width="0.9"/>
<circle cx="2867.2" cy="1340.2" r="11.5" fill="#fff" stroke="#111" stroke-width="2.2"/>
<line x1="2857.5" y1="1323.3" x2="2877" y2="1357" stroke="#111" stroke-width="0.9"/>
<line x1="2884.1" y1="1330.4" x2="2850.4" y2="1349.9" stroke="#111" stroke-width="0.9"/>
<circle cx="2760.8" cy="1384.3" r="11.5" fill="#fff" stroke="#111" stroke-width="2.2"/>
<line x1="2755.7" y1="1365.4" x2="2765.8" y2="1403.1" stroke="#111" stroke-width="0.9"/>
<line x1="2779.6" y1="1379.2" x2="2741.9" y2="1389.3" stroke="#111" stroke-width="0.9"/>
<circle cx="2646.5" cy="1399.3" r="11.5" fill="#fff" stroke="#111" stroke-width="2.2"/>
<line x1="2646.5" y1="1379.8" x2="2646.5" y2="1418.8" stroke="#111" stroke-width="0.9"/>
<line x1="2666" y1="1399.3" x2="2627" y2="1399.3" stroke="#111" stroke-width="0.9"/>
<circle cx="2532.2" cy="1384.3" r="11.5" fill="#fff" stroke="#111" stroke-width="2.2"/>
<line x1="2537.3" y1="1365.4" x2="2527.2" y2="1403.1" stroke="#111" stroke-width="0.9"/>
<line x1="2551.1" y1="1389.3" x2="2513.4" y2="1379.2" stroke="#111" stroke-width="0.9"/>
<circle cx="2425.8" cy="1340.2" r="11.5" fill="#fff" stroke="#111" stroke-width="2.2"/>
<line x1="2435.5" y1="1323.3" x2="2416" y2="1357" stroke="#111" stroke-width="0.9"/>
<line x1="2442.6" y1="1349.9" x2="2408.9" y2="1330.4" stroke="#111" stroke-width="0.9"/>
<circle cx="2334.3" cy="1270" r="11.5" fill="#fff" stroke="#111" stroke-width="2.2"/>
<line x1="2348.1" y1="1256.2" x2="2320.5" y2="1283.8" stroke="#111" stroke-width="0.9"/>
<line x1="2348.1" y1="1283.8" x2="2320.5" y2="1256.2" stroke="#111" stroke-width="0.9"/>
<circle cx="2264.1" cy="1178.6" r="11.5" fill="#fff" stroke="#111" stroke-width="2.2"/>
<line x1="2281" y1="1168.8" x2="2247.3" y2="1188.3" stroke="#111" stroke-width="0.9"/>
<line x1="2273.9" y1="1195.4" x2="2254.4" y2="1161.7" stroke="#111" stroke-width="0.9"/>
<circle cx="2220" cy="1072.1" r="11.5" fill="#fff" stroke="#111" stroke-width="2.2"/>
<line x1="2238.9" y1="1067" x2="2201.2" y2="1077.1" stroke="#111" stroke-width="0.9"/>
<line x1="2225.1" y1="1090.9" x2="2215" y2="1053.2" stroke="#111" stroke-width="0.9"/>
<circle cx="2205" cy="957.8" r="11.5" fill="#fff" stroke="#111" stroke-width="2.2"/>
<line x1="2224.5" y1="957.8" x2="2185.5" y2="957.8" stroke="#111" stroke-width="0.9"/>
<line x1="2205" y1="977.3" x2="2205" y2="938.3" stroke="#111" stroke-width="0.9"/>
<circle cx="2220" cy="843.5" r="11.5" fill="#fff" stroke="#111" stroke-width="2.2"/>
<line x1="2238.9" y1="848.6" x2="2201.2" y2="838.5" stroke="#111" stroke-width="0.9"/>
<line x1="2215" y1="862.4" x2="2225.1" y2="824.7" stroke="#111" stroke-width="0.9"/>
<circle cx="2264.1" cy="737" r="11.5" fill="#fff" stroke="#111" stroke-width="2.2"/>
<line x1="2281" y1="746.8" x2="2247.3" y2="727.3" stroke="#111" stroke-width="0.9"/>
<line x1="2254.4" y1="753.9" x2="2273.9" y2="720.2" stroke="#111" stroke-width="0.9"/>
<circle cx="2334.3" cy="645.6" r="11.5" fill="#fff" stroke="#111" stroke-width="2.2"/>
<line x1="2348.1" y1="659.4" x2="2320.5" y2="631.8" stroke="#111" stroke-width="0.9"/>
<line x1="2320.5" y1="659.4" x2="2348.1" y2="631.8" stroke="#111" stroke-width="0.9"/>
<circle cx="2425.8" cy="575.4" r="11.5" fill="#fff" stroke="#111" stroke-width="2.2"/>
<line x1="2435.5" y1="592.3" x2="2416" y2="558.6" stroke="#111" stroke-width="0.9"/>
<line x1="2408.9" y1="585.2" x2="2442.6" y2="565.7" stroke="#111" stroke-width="0.9"/>
<circle cx="2532.2" cy="531.3" r="11.5" fill="#fff" stroke="#111" stroke-width="2.2"/>
<line x1="2537.3" y1="550.2" x2="2527.2" y2="512.5" stroke="#111" stroke-width="0.9"/>
<line x1="2513.4" y1="536.4" x2="2551.1" y2="526.3" stroke="#111" stroke-width="0.9"/>
<circle cx="2208.8" cy="1015.4" r="10.5" fill="#fff" stroke="#111" stroke-width="3.4"/>
<circle cx="2208.8" cy="1015.4" r="7.2" fill="none" stroke="#111" stroke-width="1.2"/>
<line x1="2233.1" y1="1012.2" x2="2184.5" y2="1018.6" stroke="#111" stroke-width="0.9"/>
<line x1="2212" y1="1039.7" x2="2205.6" y2="991.1" stroke="#111" stroke-width="0.9"/>
<circle cx="3084.2" cy="900.2" r="10.5" fill="#fff" stroke="#111" stroke-width="3.4"/>
<circle cx="3084.2" cy="900.2" r="7.2" fill="none" stroke="#111" stroke-width="1.2"/>
<line x1="3059.9" y1="903.4" x2="3108.5" y2="897" stroke="#111" stroke-width="0.9"/>
<line x1="3081" y1="875.9" x2="3087.4" y2="924.5" stroke="#111" stroke-width="0.9"/>
<circle cx="2686.3" cy="674.8" r="13.5" fill="#fff" stroke="#111" stroke-width="3.0"/>
<line x1="2683.3" y1="696.1" x2="2689.3" y2="653.5" stroke="#111" stroke-width="0.9"/>
<line x1="2665" y1="671.8" x2="2707.6" y2="677.8" stroke="#111" stroke-width="0.9"/>
<circle cx="2762.7" cy="696.7" r="13.5" fill="#fff" stroke="#111" stroke-width="3.0"/>
<line x1="2754" y1="716.3" x2="2771.5" y2="677.1" stroke="#111" stroke-width="0.9"/>
<line x1="2743.1" y1="688" x2="2782.4" y2="705.5" stroke="#111" stroke-width="0.9"/>
<circle cx="2830.2" cy="738.9" r="13.5" fill="#fff" stroke="#111" stroke-width="3.0"/>
<line x1="2816.4" y1="755.3" x2="2844" y2="722.4" stroke="#111" stroke-width="0.9"/>
<line x1="2813.7" y1="725" x2="2846.7" y2="752.7" stroke="#111" stroke-width="0.9"/>
<circle cx="2928" cy="908.2" r="13.5" fill="#fff" stroke="#111" stroke-width="3.0"/>
<line x1="2906.8" y1="911.9" x2="2949.1" y2="904.4" stroke="#111" stroke-width="0.9"/>
<line x1="2924.2" y1="887" x2="2931.7" y2="929.3" stroke="#111" stroke-width="0.9"/>
<circle cx="2930.7" cy="987.7" r="13.5" fill="#fff" stroke="#111" stroke-width="3.0"/>
<line x1="2909.4" y1="985.4" x2="2952.1" y2="989.9" stroke="#111" stroke-width="0.9"/>
<line x1="2933" y1="966.3" x2="2928.5" y2="1009.1" stroke="#111" stroke-width="0.9"/>
<circle cx="2911.5" cy="1064.9" r="13.5" fill="#fff" stroke="#111" stroke-width="3.0"/>
<line x1="2891.6" y1="1056.8" x2="2931.4" y2="1072.9" stroke="#111" stroke-width="0.9"/>
<line x1="2919.5" y1="1044.9" x2="2903.4" y2="1084.8" stroke="#111" stroke-width="0.9"/>
<circle cx="2871.7" cy="1133.8" r="13.5" fill="#fff" stroke="#111" stroke-width="3.0"/>
<line x1="2854.8" y1="1120.5" x2="2888.7" y2="1147" stroke="#111" stroke-width="0.9"/>
<line x1="2885" y1="1116.8" x2="2858.5" y2="1150.7" stroke="#111" stroke-width="0.9"/>
<circle cx="2814.5" cy="1189" r="13.5" fill="#fff" stroke="#111" stroke-width="3.0"/>
<line x1="2801.9" y1="1171.6" x2="2827.1" y2="1206.4" stroke="#111" stroke-width="0.9"/>
<line x1="2831.9" y1="1176.4" x2="2797.1" y2="1201.7" stroke="#111" stroke-width="0.9"/>
<circle cx="2744.2" cy="1226.4" r="13.5" fill="#fff" stroke="#111" stroke-width="3.0"/>
<line x1="2736.9" y1="1206.2" x2="2751.6" y2="1246.6" stroke="#111" stroke-width="0.9"/>
<line x1="2764.5" y1="1219" x2="2724" y2="1233.7" stroke="#111" stroke-width="0.9"/>
<circle cx="2606.7" cy="674.8" r="13.5" fill="#fff" stroke="#111" stroke-width="3.0"/>
<line x1="2609.7" y1="696.1" x2="2603.7" y2="653.5" stroke="#111" stroke-width="0.9"/>
<line x1="2585.4" y1="677.8" x2="2628" y2="671.8" stroke="#111" stroke-width="0.9"/>
<circle cx="2530.3" cy="696.7" r="13.5" fill="#fff" stroke="#111" stroke-width="3.0"/>
<line x1="2539" y1="716.3" x2="2521.5" y2="677.1" stroke="#111" stroke-width="0.9"/>
<line x1="2510.6" y1="705.5" x2="2549.9" y2="688" stroke="#111" stroke-width="0.9"/>
<circle cx="2462.8" cy="738.9" r="13.5" fill="#fff" stroke="#111" stroke-width="3.0"/>
<line x1="2476.6" y1="755.3" x2="2449" y2="722.4" stroke="#111" stroke-width="0.9"/>
<line x1="2446.3" y1="752.7" x2="2479.3" y2="725" stroke="#111" stroke-width="0.9"/>
<circle cx="2365" cy="908.2" r="13.5" fill="#fff" stroke="#111" stroke-width="3.0"/>
<line x1="2386.2" y1="911.9" x2="2343.9" y2="904.4" stroke="#111" stroke-width="0.9"/>
<line x1="2361.3" y1="929.3" x2="2368.8" y2="887" stroke="#111" stroke-width="0.9"/>
<circle cx="2362.3" cy="987.7" r="13.5" fill="#fff" stroke="#111" stroke-width="3.0"/>
<line x1="2383.6" y1="985.4" x2="2340.9" y2="989.9" stroke="#111" stroke-width="0.9"/>
<line x1="2364.5" y1="1009.1" x2="2360" y2="966.3" stroke="#111" stroke-width="0.9"/>
<circle cx="2381.5" cy="1064.9" r="13.5" fill="#fff" stroke="#111" stroke-width="3.0"/>
<line x1="2401.4" y1="1056.8" x2="2361.6" y2="1072.9" stroke="#111" stroke-width="0.9"/>
<line x1="2389.6" y1="1084.8" x2="2373.5" y2="1044.9" stroke="#111" stroke-width="0.9"/>
<circle cx="2421.3" cy="1133.8" r="13.5" fill="#fff" stroke="#111" stroke-width="3.0"/>
<line x1="2438.2" y1="1120.5" x2="2404.3" y2="1147" stroke="#111" stroke-width="0.9"/>
<line x1="2434.5" y1="1150.7" x2="2408" y2="1116.8" stroke="#111" stroke-width="0.9"/>
<circle cx="2478.5" cy="1189" r="13.5" fill="#fff" stroke="#111" stroke-width="3.0"/>
<line x1="2491.1" y1="1171.6" x2="2465.9" y2="1206.4" stroke="#111" stroke-width="0.9"/>
<line x1="2495.9" y1="1201.7" x2="2461.1" y2="1176.4" stroke="#111" stroke-width="0.9"/>
<circle cx="2548.8" cy="1226.4" r="13.5" fill="#fff" stroke="#111" stroke-width="3.0"/>
<line x1="2556.1" y1="1206.2" x2="2541.4" y2="1246.6" stroke="#111" stroke-width="0.9"/>
<line x1="2569" y1="1233.7" x2="2528.5" y2="1219" stroke="#111" stroke-width="0.9"/>
<circle cx="2646.5" cy="698.8" r="17.3" fill="url(#xh2)" stroke="#111" stroke-width="3.0"/>
<line x1="2676.5" y1="698.8" x2="2616.5" y2="698.8" stroke="#111" stroke-width="1.0"/>
<line x1="2646.5" y1="738.8" x2="2646.5" y2="658.8" stroke="#111" stroke-width="1.0"/>
<circle cx="2870.8" cy="1087.3" r="17.3" fill="url(#xh2)" stroke="#111" stroke-width="3.0"/>
<line x1="2855.8" y1="1113.3" x2="2885.8" y2="1061.3" stroke="#111" stroke-width="1.0"/>
<line x1="2836.2" y1="1067.3" x2="2905.4" y2="1107.3" stroke="#111" stroke-width="1.0"/>
<circle cx="2422.2" cy="1087.3" r="17.3" fill="url(#xh2)" stroke="#111" stroke-width="3.0"/>
<line x1="2407.2" y1="1061.3" x2="2437.2" y2="1113.3" stroke="#111" stroke-width="1.0"/>
<line x1="2456.8" y1="1067.3" x2="2387.6" y2="1107.3" stroke="#111" stroke-width="1.0"/>
<circle cx="2646.5" cy="810.8" r="5.2" fill="#fff" stroke="#111" stroke-width="2.2"/>
<line x1="2646.5" y1="822" x2="2646.5" y2="799.6" stroke="#111" stroke-width="0.7"/>
<line x1="2635.3" y1="810.8" x2="2657.7" y2="810.8" stroke="#111" stroke-width="0.7"/>
<circle cx="2750.4" cy="853.9" r="5.2" fill="#fff" stroke="#111" stroke-width="2.2"/>
<line x1="2742.5" y1="861.8" x2="2758.4" y2="845.9" stroke="#111" stroke-width="0.7"/>
<line x1="2742.5" y1="845.9" x2="2758.4" y2="861.8" stroke="#111" stroke-width="0.7"/>
<circle cx="2793.5" cy="957.8" r="5.2" fill="#fff" stroke="#111" stroke-width="2.2"/>
<line x1="2782.3" y1="957.8" x2="2804.7" y2="957.8" stroke="#111" stroke-width="0.7"/>
<line x1="2793.5" y1="946.6" x2="2793.5" y2="969" stroke="#111" stroke-width="0.7"/>
<circle cx="2750.4" cy="1061.7" r="5.2" fill="#fff" stroke="#111" stroke-width="2.2"/>
<line x1="2742.5" y1="1053.8" x2="2758.4" y2="1069.7" stroke="#111" stroke-width="0.7"/>
<line x1="2758.4" y1="1053.8" x2="2742.5" y2="1069.7" stroke="#111" stroke-width="0.7"/>
<circle cx="2646.5" cy="1104.8" r="5.2" fill="#fff" stroke="#111" stroke-width="2.2"/>
<line x1="2646.5" y1="1093.6" x2="2646.5" y2="1116" stroke="#111" stroke-width="0.7"/>
<line x1="2657.7" y1="1104.8" x2="2635.3" y2="1104.8" stroke="#111" stroke-width="0.7"/>
<circle cx="2542.6" cy="1061.7" r="5.2" fill="#fff" stroke="#111" stroke-width="2.2"/>
<line x1="2550.5" y1="1053.8" x2="2534.6" y2="1069.7" stroke="#111" stroke-width="0.7"/>
<line x1="2550.5" y1="1069.7" x2="2534.6" y2="1053.8" stroke="#111" stroke-width="0.7"/>
<circle cx="2499.5" cy="957.8" r="5.2" fill="#fff" stroke="#111" stroke-width="2.2"/>
<line x1="2510.7" y1="957.8" x2="2488.3" y2="957.8" stroke="#111" stroke-width="0.7"/>
<line x1="2499.5" y1="969" x2="2499.5" y2="946.6" stroke="#111" stroke-width="0.7"/>
<circle cx="2542.6" cy="853.9" r="5.2" fill="#fff" stroke="#111" stroke-width="2.2"/>
<line x1="2550.5" y1="861.8" x2="2534.6" y2="845.9" stroke="#111" stroke-width="0.7"/>
<line x1="2534.6" y1="861.8" x2="2550.5" y2="845.9" stroke="#111" stroke-width="0.7"/>
<circle cx="2706.2" cy="723.2" r="8" fill="#fff" stroke="#111" stroke-width="1.6"/>
<line x1="2694" y1="723.2" x2="2718" y2="723.2" stroke="#111" stroke-width="0.8"/>
<line x1="2706.2" y1="711" x2="2706.2" y2="735" stroke="#111" stroke-width="0.8"/>
<circle cx="2437.8" cy="837.3" r="11.8" fill="#fff" stroke="#111" stroke-width="2.4"/>
<circle cx="2437.8" cy="837.3" r="7" fill="none" stroke="#111" stroke-width="2.0"/>
<circle cx="2855.2" cy="837.3" r="8" fill="url(#xh2)" stroke="#111" stroke-width="2.6"/>
<line x1="2837.9" y1="847.3" x2="2872.5" y2="827.3" stroke="#111" stroke-width="0.9"/>
<line x1="2845.2" y1="820" x2="2865.2" y2="854.6" stroke="#111" stroke-width="0.9"/>
<circle cx="2646.5" cy="1198.8" r="8" fill="url(#xh2)" stroke="#111" stroke-width="2.6"/>
<line x1="2646.5" y1="1178.8" x2="2646.5" y2="1218.8" stroke="#111" stroke-width="0.9"/>
<line x1="2666.5" y1="1198.8" x2="2626.5" y2="1198.8" stroke="#111" stroke-width="0.9"/>
<line x1="2170" y1="957.8" x2="3125" y2="957.8" stroke="#111" stroke-width="1.3" stroke-dasharray="44 6 5 6"/>
<line x1="2646.5" y1="380" x2="2646.5" y2="1490" stroke="#111" stroke-width="1.3" stroke-dasharray="44 6 5 6"/>
<path d="M2217.8,710.3 A495,495 0 0 1 2646.5,462.8" fill="none" stroke="#111" stroke-width="1.25"/>
<polygon points="2217.8,710.3 2222.2,697.8 2226.7,700.5" fill="#111"/>
<polygon points="2646.5,462.8 2633.5,465.6 2633.5,460.4" fill="#111"/>
<path d="M2646.5,462.8 A495,495 0 0 1 2715.4,467.6" fill="none" stroke="#111" stroke-width="1.25"/>
<polygon points="2646.5,462.8 2659.5,460.4 2659.5,465.6" fill="#111"/>
<polygon points="2715.4,467.6 2702.2,468.6 2702.8,463.4" fill="#111"/>
<path d="M2715.4,467.6 A495,495 0 0 1 2847.8,505.6" fill="none" stroke="#111" stroke-width="1.25"/>
<polygon points="2715.4,467.6 2728.6,467 2727.8,472.2" fill="#111"/>
<polygon points="2847.8,505.6 2834.9,502.9 2836.9,498.1" fill="#111"/>
<path d="M2847.8,505.6 A495,495 0 0 1 2964.7,578.6" fill="none" stroke="#111" stroke-width="1.25"/>
<polygon points="2847.8,505.6 2860.7,508.7 2858.6,513.4" fill="#111"/>
<polygon points="2964.7,578.6 2953,572.4 2956.3,568.4" fill="#111"/>
<line x1="2684.1" y1="690.4" x2="2716.8" y2="457.7" stroke="#111" stroke-width="1.0"/>
<line x1="2756.3" y1="711.1" x2="2858" y2="482.8" stroke="#111" stroke-width="1.0"/>
<line x1="2820.1" y1="751" x2="2977.5" y2="563.3" stroke="#111" stroke-width="1.0"/>
<line x1="2447.3" y1="842.8" x2="2196.2" y2="697.8" stroke="#111" stroke-width="1.0"/>
<text x="2671.8" y="458.7" font-family="Liberation Sans" font-size="24" fill="#000" font-weight="normal" text-anchor="start" textLength="24" lengthAdjust="spacingAndGlyphs" stroke="#fff" stroke-width="0.75">8°</text>
<text x="2769.7" y="476" font-family="Liberation Sans" font-size="24" fill="#000" font-weight="normal" text-anchor="start" transform="rotate(12 2769.7 476)" textLength="36" lengthAdjust="spacingAndGlyphs" stroke="#fff" stroke-width="0.75">16°</text>
<text x="2893" y="522" font-family="Liberation Sans" font-size="24" fill="#000" font-weight="normal" text-anchor="start" transform="rotate(28 2893 522)" textLength="36" lengthAdjust="spacingAndGlyphs" stroke="#fff" stroke-width="0.75">16°</text>
<text x="2372" y="538" font-family="Liberation Sans" font-size="24" fill="#000" font-weight="normal" text-anchor="start" transform="rotate(-32 2372 538)" textLength="38" lengthAdjust="spacingAndGlyphs" stroke="#fff" stroke-width="0.75">60°</text>
<path d="M2646.5,396.8 A561,561 0 0 1 3132.3,1238.3" fill="none" stroke="#111" stroke-width="1.25"/>
<polygon points="2646.5,396.8 2659.5,394.4 2659.5,399.6" fill="#111"/>
<polygon points="3132.3,1238.3 3136.4,1225.7 3141,1228.2" fill="#111"/>
<line x1="2646.5" y1="390" x2="2646.5" y2="500" stroke="#111" stroke-width="1.0"/>
<line x1="2906.3" y1="1107.8" x2="3144.5" y2="1245.3" stroke="#111" stroke-width="1.0"/>
<text x="3141" y="668" font-family="Liberation Sans" font-size="24" fill="#000" font-weight="normal" text-anchor="start" transform="rotate(62 3141 668)" textLength="52" lengthAdjust="spacingAndGlyphs" stroke="#fff" stroke-width="0.75">120°</text>
<path d="M3172.5,957.8 A526,526 0 0 1 2573.3,1478.7" fill="none" stroke="#111" stroke-width="1.25"/>
<polygon points="3172.5,957.8 3174.9,970.8 3169.7,970.8" fill="#111"/>
<polygon points="2573.3,1478.7 2586.5,1477.8 2585.9,1482.9" fill="#111"/>
<path d="M2646.5,1483.8 A526,526 0 0 1 2274.6,1329.7" fill="none" stroke="#111" stroke-width="1.25"/>
<polygon points="2646.5,1483.8 2633.5,1486.2 2633.5,1481" fill="#111"/>
<polygon points="2274.6,1329.7 2285.7,1337 2282.1,1340.7" fill="#111"/>
<line x1="2646.5" y1="957.8" x2="2571.3" y2="1492.5" stroke="#111" stroke-width="1.0"/>
<line x1="2434.4" y1="1169.9" x2="2264.7" y2="1339.6" stroke="#111" stroke-width="1.0"/>
<line x1="3100" y1="957.8" x2="3190" y2="957.8" stroke="#111" stroke-width="1.0"/>
<text x="2940" y="1388" font-family="Liberation Sans" font-size="24" fill="#000" font-weight="normal" text-anchor="start" transform="rotate(-55 2940 1388)" textLength="36" lengthAdjust="spacingAndGlyphs" stroke="#fff" stroke-width="0.75">98°</text>
<text x="2436" y="1427" font-family="Liberation Sans" font-size="24" fill="#000" font-weight="normal" text-anchor="start" transform="rotate(22 2436 1427)" textLength="38" lengthAdjust="spacingAndGlyphs" stroke="#fff" stroke-width="0.75">45°</text>
<line x1="2714" y1="723.2" x2="3147" y2="723.2" stroke="#111" stroke-width="1.0"/>
<line x1="3141.3" y1="723.2" x2="3141.3" y2="957" stroke="#111" stroke-width="1.25"/>
<polygon points="3141.3,723.2 3143.9,736.2 3138.7,736.2" fill="#111"/>
<polygon points="3141.3,957 3138.7,944 3143.9,944" fill="#111"/>
<text x="3139.4" y="852.4" font-family="Liberation Sans" font-size="26" fill="#000" font-weight="normal" text-anchor="start" transform="rotate(-90 3139.4 852.4)" textLength="43" lengthAdjust="spacingAndGlyphs" stroke="#fff" stroke-width="0.75">131</text>
<line x1="2706.2" y1="723.2" x2="2706.2" y2="765" stroke="#111" stroke-width="1.0"/>
<line x1="2646.8" y1="758.2" x2="2706.2" y2="758.2" stroke="#111" stroke-width="1.25"/>
<polygon points="2646.8,758.2 2659.8,755.6 2659.8,760.8" fill="#111"/>
<polygon points="2706.2,758.2 2693.2,760.8 2693.2,755.6" fill="#111"/>
<text x="2662.5" y="754.5" font-family="Liberation Sans" font-size="26" fill="#000" font-weight="normal" text-anchor="start" textLength="33" lengthAdjust="spacingAndGlyphs" stroke="#fff" stroke-width="0.75">33</text>
<text x="2917.1" y="432.1" font-family="Liberation Serif" font-size="33" fill="#000" font-weight="normal" text-anchor="start" textLength="50.9" lengthAdjust="spacingAndGlyphs">PIN</text>
<text x="2983.6" y="432.1" font-family="Liberation Serif" font-size="33" fill="#000" font-weight="normal" text-anchor="start" textLength="65.7" lengthAdjust="spacingAndGlyphs">HOLE</text>
<line x1="2856.6" y1="427.3" x2="2895.4" y2="427.3" stroke="#111" stroke-width="1.25"/>
<line x1="2856.6" y1="427.3" x2="2711.5" y2="713" stroke="#111" stroke-width="1.25"/>
<polygon points="2711.5,713 2714.3,700 2719.1,702.1" fill="#111"/>
<line x1="2437.3" y1="795.5" x2="2437.3" y2="813.2" stroke="#111" stroke-width="3.2"/>
<line x1="2437.3" y1="862" x2="2437.3" y2="878.3" stroke="#111" stroke-width="3.2"/>
<line x1="2440" y1="804.4" x2="2471.3" y2="804.4" stroke="#111" stroke-width="1.25"/>
<polygon points="2440,804.4 2453,801.8 2453,807" fill="#111"/>
<line x1="2440" y1="870" x2="2471.3" y2="870" stroke="#111" stroke-width="1.25"/>
<polygon points="2440,870 2453,867.4 2453,872.6" fill="#111"/>
<text x="2455" y="798.4" font-family="Liberation Sans" font-size="24" fill="#000" font-weight="normal" text-anchor="start" textLength="13" lengthAdjust="spacingAndGlyphs" stroke="#fff" stroke-width="0.75">F</text>
<text x="2465.4" y="863.5" font-family="Liberation Sans" font-size="24" fill="#000" font-weight="normal" text-anchor="start" textLength="13" lengthAdjust="spacingAndGlyphs" stroke="#fff" stroke-width="0.75">F</text>
<line x1="2446" y1="845" x2="2462" y2="853" stroke="#111" stroke-width="1.0"/>
<line x1="2148.5" y1="1252.2" x2="2214.4" y2="1252.2" stroke="#111" stroke-width="1.25"/>
<line x1="2214.4" y1="1252.2" x2="2905" y2="781.7" stroke="#111" stroke-width="1.0"/>
<polygon points="2882.7,796.9 2892,787.4 2894.9,791.7" fill="#111"/>
<polygon points="2410.3,1118.7 2401,1128.2 2398.1,1123.9" fill="#111"/>
<line x1="2155.9" y1="1293.2" x2="2223" y2="1293.2" stroke="#111" stroke-width="1.25"/>
<line x1="2223" y1="1293.2" x2="2856.6" y2="791.4" stroke="#111" stroke-width="1.0"/>
<polygon points="2835.4,808.2 2844,798.1 2847.2,802.1" fill="#111"/>
<polygon points="2457.6,1107.4 2449,1117.5 2445.8,1113.5" fill="#111"/>
<line x1="2157" y1="1339.5" x2="2220.5" y2="1339.5" stroke="#111" stroke-width="1.25"/>
<line x1="2220.5" y1="1339.5" x2="2776.1" y2="841.7" stroke="#111" stroke-width="1.0"/>
<polygon points="2756,859.7 2763.9,849.1 2767.4,853" fill="#111"/>
<polygon points="2537,1055.9 2529.1,1066.5 2525.6,1062.6" fill="#111"/>
<text x="2148.5" y="1248.5" font-family="Liberation Sans" font-size="26" fill="#000" font-weight="normal" text-anchor="start" textLength="63" lengthAdjust="spacingAndGlyphs" stroke="#fff" stroke-width="0.75">ø320</text>
<text x="2155.9" y="1290" font-family="Liberation Sans" font-size="26" fill="#000" font-weight="normal" text-anchor="start" textLength="63" lengthAdjust="spacingAndGlyphs" stroke="#fff" stroke-width="0.75">ø270</text>
<text x="2157" y="1335" font-family="Liberation Sans" font-size="26" fill="#000" font-weight="normal" text-anchor="start" textLength="61" lengthAdjust="spacingAndGlyphs" stroke="#fff" stroke-width="0.75">ø165</text>
<line x1="3007.2" y1="1357" x2="3163.3" y2="1357" stroke="#111" stroke-width="1.25"/>
<line x1="3007.2" y1="1357" x2="2751" y2="1061" stroke="#111" stroke-width="1.25"/>
<polygon points="2751,1061 2761.3,1069.4 2757.3,1072.7" fill="#111"/>
<text x="3020.9" y="1347.5" font-family="Liberation Sans" font-size="26" fill="#000" font-weight="normal" text-anchor="start" textLength="67.3" lengthAdjust="spacingAndGlyphs" stroke="#fff" stroke-width="0.75">8XM6</text>
<text x="3114.5" y="1347.5" font-family="Liberation Sans" font-size="26" fill="#000" font-weight="normal" text-anchor="start" textLength="26.4" lengthAdjust="spacingAndGlyphs" stroke="#fff" stroke-width="0.75">10</text>
<line x1="3095.2" y1="1330.5" x2="3112.8" y2="1330.5" stroke="#111" stroke-width="3"/>
<line x1="3104" y1="1331" x2="3104" y2="1340" stroke="#111" stroke-width="2"/>
<polygon points="3097.5,1335 3110.5,1335 3104,1348" fill="#111" stroke="#111" stroke-width="1" stroke-linejoin="miter"/>
<text x="3057.2" y="1380.2" font-family="Liberation Sans" font-size="26" fill="#000" font-weight="normal" text-anchor="start" textLength="49.2" lengthAdjust="spacingAndGlyphs" stroke="#fff" stroke-width="0.75">EQS</text>
<line x1="2968.5" y1="1492.2" x2="3152.8" y2="1492.2" stroke="#111" stroke-width="1.25"/>
<line x1="2968.5" y1="1492.2" x2="2829.1" y2="1217.7" stroke="#111" stroke-width="1.25"/>
<polygon points="2829.1,1217.7 2837.1,1228.3 2832.4,1230.5" fill="#111"/>
<text x="2978.1" y="1485.6" font-family="Liberation Sans" font-size="26" fill="#000" font-weight="normal" text-anchor="start" textLength="94.9" lengthAdjust="spacingAndGlyphs" stroke="#fff" stroke-width="0.75">18XM16</text>
<text x="3098.7" y="1485.6" font-family="Liberation Sans" font-size="26" fill="#000" font-weight="normal" text-anchor="start" textLength="30.5" lengthAdjust="spacingAndGlyphs" stroke="#fff" stroke-width="0.75">28</text>
<line x1="3080" y1="1468.5" x2="3097.6" y2="1468.5" stroke="#111" stroke-width="3"/>
<line x1="3088.8" y1="1469" x2="3088.8" y2="1478" stroke="#111" stroke-width="2"/>
<polygon points="3082.4,1473.3 3095.2,1473.3 3088.8,1486" fill="#111" stroke="#111" stroke-width="1" stroke-linejoin="miter"/>
<text x="515.6" y="1779.9" font-family="Liberation Sans" font-size="26" fill="#000" font-weight="normal" text-anchor="start" textLength="52" lengthAdjust="spacingAndGlyphs" stroke="#fff" stroke-width="0.75">E–E</text>
<line x1="500.3" y1="1786.4" x2="584.2" y2="1786.4" stroke="#111" stroke-width="3.0"/>
<polyline points="439.4,1961.7 439.4,1889.9 445.9,1882.9 695.3,1882.9 702.9,1889.9 702.9,1963.9" fill="none" stroke="#111" stroke-width="2.8" stroke-linejoin="miter"/>
<path d="M439.4,1961.7 Q439.4,1963.9 436,1963.9 L403.4,1963.9" fill="none" stroke="#111" stroke-width="2.8"/>
<rect x="440.5" y="1904.7" width="199.2" height="46.6" fill="none" stroke="#111" stroke-width="2.8"/>
<line x1="639.7" y1="1906.8" x2="700.7" y2="1906.8" stroke="#111" stroke-width="1.3"/>
<line x1="639.7" y1="1909.9" x2="700.7" y2="1909.9" stroke="#111" stroke-width="2.2"/>
<line x1="639.7" y1="1946.5" x2="700.7" y2="1946.5" stroke="#111" stroke-width="2.2"/>
<line x1="639.7" y1="1948.7" x2="700.7" y2="1948.7" stroke="#111" stroke-width="1.3"/>
<line x1="700.7" y1="1909.9" x2="700.7" y2="1946.5" stroke="#111" stroke-width="2.4"/>
<line x1="415.4" y1="1927.5" x2="726.8" y2="1927.5" stroke="#111" stroke-width="1.2" stroke-dasharray="44 6 5 6"/>
<line x1="344.6" y1="1904.7" x2="439.4" y2="1904.7" stroke="#111" stroke-width="1.25"/>
<line x1="344.6" y1="1951.3" x2="439.4" y2="1951.3" stroke="#111" stroke-width="1.25"/>
<line x1="346.2" y1="1904.7" x2="346.2" y2="2014" stroke="#111" stroke-width="1.25"/>
<polygon points="346.2,1904.7 348.8,1917.7 343.6,1917.7" fill="#111"/>
<polygon points="346.2,1951.3 343.6,1938.3 348.8,1938.3" fill="#111"/>
<text x="343.6" y="2011.8" font-family="Liberation Sans" font-size="26" fill="#000" font-weight="normal" text-anchor="start" transform="rotate(-90 343.6 2011.8)" textLength="45" lengthAdjust="spacingAndGlyphs" stroke="#fff" stroke-width="0.75">ø13</text>
<line x1="439.4" y1="1964" x2="439.4" y2="2014" stroke="#111" stroke-width="1.25"/>
<line x1="639.7" y1="1951.3" x2="639.7" y2="2014" stroke="#111" stroke-width="1.25"/>
<line x1="702.9" y1="1964" x2="702.9" y2="2014" stroke="#111" stroke-width="1.25"/>
<line x1="439.4" y1="2008.5" x2="798.7" y2="2008.5" stroke="#111" stroke-width="1.25"/>
<polygon points="439.4,2008.5 452.4,2005.9 452.4,2011.1" fill="#111"/>
<polygon points="639.7,2008.5 626.7,2011.1 626.7,2005.9" fill="#111"/>
<polygon points="639.7,2008.5 652.7,2005.9 652.7,2011.1" fill="#111"/>
<polygon points="702.9,2008.5 689.9,2011.1 689.9,2005.9" fill="#111"/>
<text x="524.3" y="2004.2" font-family="Liberation Sans" font-size="26" fill="#000" font-weight="normal" text-anchor="start" textLength="30.5" lengthAdjust="spacingAndGlyphs" stroke="#fff" stroke-width="0.75">56</text>
<text x="719.2" y="2003" font-family="Liberation Sans" font-size="26" fill="#000" font-weight="normal" text-anchor="start" textLength="75" lengthAdjust="spacingAndGlyphs" stroke="#fff" stroke-width="0.75">(17.5)</text>
<text x="707.2" y="1815.8" font-family="Liberation Sans" font-size="26" fill="#000" font-weight="normal" text-anchor="start" textLength="48" lengthAdjust="spacingAndGlyphs" stroke="#fff" stroke-width="0.75">M12</text>
<line x1="700.7" y1="1819.5" x2="768.2" y2="1819.5" stroke="#111" stroke-width="1.25"/>
<line x1="700.7" y1="1819.5" x2="667" y2="1906.2" stroke="#111" stroke-width="1.25"/>
<polygon points="667,1906.2 669.2,1893.1 674.1,1895" fill="#111"/>
<text x="1249.7" y="1690" font-family="Liberation Sans" font-size="24" fill="#000" font-weight="normal" text-anchor="start" textLength="11.7" lengthAdjust="spacingAndGlyphs" stroke="#fff" stroke-width="0.75">J</text>
<line x1="1231.4" y1="1695" x2="1283" y2="1695" stroke="#111" stroke-width="2.6"/>
<text x="1239.7" y="1721.6" font-family="Liberation Sans" font-size="24" fill="#000" font-weight="normal" text-anchor="start" textLength="38" lengthAdjust="spacingAndGlyphs" stroke="#fff" stroke-width="0.75">2:1</text>
<polygon points="1227,1847 1246.7,1847 1246.7,1931 1272,1931 1272,1961.4 1290.5,1961.4 1290.5,2011.2 1325,2011.2 1325,2029.7 1272,2029.7 1272,1969.4 1249.8,1969.4 1249.8,1941.1 1227,1941.1" fill="url(#xh3)" stroke="none"/>
<line x1="1227" y1="1847" x2="1227" y2="1941.1" stroke="#111" stroke-width="2.8"/>
<polyline points="1249.8,1941.1 1249.8,1969.4 1272,1969.4 1272,2029.7 1325,2029.7" fill="none" stroke="#111" stroke-width="2.8" stroke-linejoin="miter"/>
<text x="1113.3" y="1756.5" font-family="Liberation Sans" font-size="26" fill="#000" font-weight="normal" text-anchor="start" textLength="98" lengthAdjust="spacingAndGlyphs" stroke="#fff" stroke-width="0.75">13.5MIN</text>
<line x1="1111.6" y1="1759.2" x2="1271.3" y2="1759.2" stroke="#111" stroke-width="1.25"/>
<polygon points="1226.4,1759.2 1239.4,1756.6 1239.4,1761.8" fill="#111"/>
<polygon points="1272.3,1759.2 1259.3,1761.8 1259.3,1756.6" fill="#111"/>
<text x="1138.2" y="1829.7" font-family="Liberation Sans" font-size="26" fill="#000" font-weight="normal" text-anchor="start" textLength="58" lengthAdjust="spacingAndGlyphs" stroke="#fff" stroke-width="0.75">7MIN</text>
<line x1="1135" y1="1832.4" x2="1279" y2="1832.4" stroke="#111" stroke-width="1.25"/>
<polygon points="1226.4,1832.4 1213.4,1835 1213.4,1829.8" fill="#111"/>
<polygon points="1249.7,1832.4 1262.7,1829.8 1262.7,1835" fill="#111"/>
<line x1="1226.4" y1="1756" x2="1226.4" y2="1848" stroke="#111" stroke-width="1.25"/>
<line x1="1249.7" y1="1813" x2="1249.7" y2="1931" stroke="#111" stroke-width="1.25"/>
<line x1="1272.3" y1="1756" x2="1272.3" y2="1969" stroke="#111" stroke-width="1.25"/>
<line x1="1178.4" y1="1941.1" x2="1249.8" y2="1941.1" stroke="#111" stroke-width="2.6"/>
<polyline points="1210.4,1870.8 1189.4,1901.6 1178.4,1941.1 1168.5,1963.2 1182.7,2024.8 1195,2040" fill="none" stroke="#111" stroke-width="1.3" stroke-linejoin="miter"/>
<line x1="1241.8" y1="1942" x2="1241.8" y2="1977.4" stroke="#111" stroke-width="1.3"/>
<polyline points="1203,1963.8 1209,1959.5 1241.8,1959.5" fill="none" stroke="#111" stroke-width="1.3" stroke-linejoin="miter"/>
<path d="M1171,1970.5 Q1197,1958 1229,1977" fill="none" stroke="#111" stroke-width="1.4"/>
<polyline points="1175.2,1986 1181.4,1977.4 1257,1977.4 1262.2,1980.5 1262.2,2013.7" fill="none" stroke="#111" stroke-width="1.3" stroke-linejoin="miter"/>
<line x1="1183.3" y1="2024.8" x2="1261.5" y2="2003.2" stroke="#111" stroke-width="1.3"/>
<line x1="1165.4" y1="1976.8" x2="1199.3" y2="2016.3" stroke="#111" stroke-width="1.1"/>
<line x1="1206.7" y1="2024.8" x2="1219" y2="2040" stroke="#111" stroke-width="1.1"/>
<path d="M1244.2,2007 Q1246,2025 1236,2040" fill="none" stroke="#111" stroke-width="1.3"/>
<polyline points="1244.9,2013.7 1264.6,2013.7 1266.5,2017.4 1266.5,2040" fill="none" stroke="#111" stroke-width="1.6" stroke-linejoin="miter"/>
<polyline points="1267.7,2040 1267.7,2034.7 1280.7,2034.7 1281.3,2038.4 1325,2038.4 1325,2103" fill="none" stroke="#111" stroke-width="2.4" stroke-linejoin="miter"/>
<path d="M1216,2066 Q1270,2075 1324.6,2073" fill="none" stroke="#111" stroke-width="1.2"/>
<line x1="1219.8" y1="2067.6" x2="1219.8" y2="2102.6" stroke="#111" stroke-width="2.0"/>
<line x1="1226.4" y1="2067.6" x2="1226.4" y2="2102.6" stroke="#111" stroke-width="2.0"/>
<line x1="1236.4" y1="2067.6" x2="1236.4" y2="2102.6" stroke="#111" stroke-width="2.0"/>
<line x1="1241.4" y1="2067.6" x2="1241.4" y2="2102.6" stroke="#111" stroke-width="2.0"/>
<line x1="1266.4" y1="2036" x2="1266.4" y2="2102.6" stroke="#111" stroke-width="2.0"/>
<line x1="1281.3" y1="2036" x2="1281.3" y2="2102.6" stroke="#111" stroke-width="2.0"/>
<text x="1342.4" y="1908" font-family="Liberation Serif" font-size="32" fill="#000" font-weight="normal" text-anchor="start" textLength="84.2" lengthAdjust="spacingAndGlyphs">MATED</text>
<text x="1443.9" y="1908" font-family="Liberation Serif" font-size="32" fill="#000" font-weight="normal" text-anchor="start" textLength="145.8" lengthAdjust="spacingAndGlyphs">COMPONENT</text>
<line x1="1306.3" y1="1894.6" x2="1333" y2="1894.6" stroke="#111" stroke-width="1.25"/>
<line x1="1306.3" y1="1894.6" x2="1266.4" y2="1954.5" stroke="#111" stroke-width="1.25"/>
<polygon points="1266.4,1954.5 1271.4,1942.2 1275.7,1945.1" fill="#111"/>
<line x1="1324.6" y1="2029.4" x2="1396" y2="2029.4" stroke="#111" stroke-width="1.25"/>
<line x1="1394.5" y1="2029.4" x2="1394.5" y2="2172.5" stroke="#111" stroke-width="1.25"/>
<polygon points="1394.5,2029.4 1397.1,2042.4 1391.9,2042.4" fill="#111"/>
<text x="1392.8" y="2167.5" font-family="Liberation Sans" font-size="26" fill="#000" font-weight="normal" text-anchor="start" transform="rotate(-90 1392.8 2167.5)" textLength="106" lengthAdjust="spacingAndGlyphs" stroke="#fff" stroke-width="0.75">ø386MIN</text>
<line x1="1293" y1="1969.5" x2="1499" y2="1969.5" stroke="#111" stroke-width="1.25"/>
<line x1="1497.6" y1="1969.5" x2="1497.6" y2="2132.5" stroke="#111" stroke-width="1.25"/>
<polygon points="1497.6,1969.5 1500.2,1982.5 1495,1982.5" fill="#111"/>
<text x="1496" y="2129.2" font-family="Liberation Sans" font-size="26" fill="#000" font-weight="normal" text-anchor="start" transform="rotate(-90 1496 2129.2)" textLength="108" lengthAdjust="spacingAndGlyphs" stroke="#fff" stroke-width="0.75">ø420MIN</text>
<text x="2041.3" y="1776.8" font-family="Liberation Sans" font-size="24" fill="#000" font-weight="normal" text-anchor="start" textLength="13.5" lengthAdjust="spacingAndGlyphs" stroke="#fff" stroke-width="0.75">K</text>
<line x1="2021.6" y1="1781.8" x2="2074.5" y2="1781.8" stroke="#111" stroke-width="1.6"/>
<text x="2031.4" y="1807.6" font-family="Liberation Sans" font-size="24" fill="#000" font-weight="normal" text-anchor="start" textLength="37" lengthAdjust="spacingAndGlyphs" stroke="#fff" stroke-width="0.75">2:1</text>
<line x1="2002.6" y1="1857" x2="2002.6" y2="2024.5" stroke="#111" stroke-width="2.6"/>
<rect x="1985.3" y="1896.4" width="17.3" height="27.1" fill="none" stroke="#111" stroke-width="2.4"/>
<line x1="2002.6" y1="1896.4" x2="2151" y2="1896.4" stroke="#111" stroke-width="1.25"/>
<line x1="2002.6" y1="1923.5" x2="2083.2" y2="1923.5" stroke="#111" stroke-width="1.25"/>
<line x1="1985.8" y1="1923.5" x2="1985.8" y2="2024.5" stroke="#111" stroke-width="1.25"/>
<text x="1818.2" y="1977.7" font-family="Liberation Sans" font-size="26" fill="#000" font-weight="normal" text-anchor="start" textLength="136" lengthAdjust="spacingAndGlyphs" stroke="#fff" stroke-width="0.75">4.6±ø0.05</text>
<line x1="1814.5" y1="1981.4" x2="2031.4" y2="1981.4" stroke="#111" stroke-width="1.25"/>
<polygon points="1985.3,1981.4 1972.3,1984 1972.3,1978.8" fill="#111"/>
<polygon points="2002.6,1981.4 2015.6,1978.8 2015.6,1984" fill="#111"/>
<line x1="2080.7" y1="1868" x2="2080.7" y2="1896.4" stroke="#111" stroke-width="1.25"/>
<polygon points="2080.7,1896.4 2078.1,1883.4 2083.3,1883.4" fill="#111"/>
<line x1="2080.7" y1="1923.5" x2="2080.7" y2="2105.9" stroke="#111" stroke-width="1.25"/>
<polygon points="2080.7,1923.5 2083.3,1936.5 2078.1,1936.5" fill="#111"/>
<text x="2077.7" y="2102" font-family="Liberation Sans" font-size="26" fill="#000" font-weight="normal" text-anchor="start" transform="rotate(-90 2077.7 2102)" textLength="40" lengthAdjust="spacingAndGlyphs" stroke="#fff" stroke-width="0.75">7.5</text>
<text x="2061" y="2056" font-family="Liberation Sans" font-size="19" fill="#000" font-weight="normal" text-anchor="start" transform="rotate(-90 2061 2056)" textLength="38" lengthAdjust="spacingAndGlyphs" stroke="#fff" stroke-width="0.35">+0.25</text>
<text x="2077.5" y="2056" font-family="Liberation Sans" font-size="19" fill="#000" font-weight="normal" text-anchor="start" transform="rotate(-90 2077.5 2056)" textLength="22" lengthAdjust="spacingAndGlyphs" stroke="#fff" stroke-width="0.35">+0</text>
<line x1="2149.7" y1="1896.4" x2="2149.7" y2="2078.8" stroke="#111" stroke-width="1.25"/>
<polygon points="2149.7,1896.4 2152.3,1909.4 2147.1,1909.4" fill="#111"/>
<text x="2146" y="2073.8" font-family="Liberation Sans" font-size="26" fill="#000" font-weight="normal" text-anchor="start" transform="rotate(-90 2146 2073.8)" textLength="121" lengthAdjust="spacingAndGlyphs" stroke="#fff" stroke-width="0.75">ø470±0.1</text>
<text x="2662" y="1775.4" font-family="Liberation Sans" font-size="26" fill="#000" font-weight="normal" text-anchor="start" textLength="49" lengthAdjust="spacingAndGlyphs" stroke="#fff" stroke-width="0.75">F–F</text>
<line x1="2646" y1="1781.6" x2="2729.7" y2="1781.6" stroke="#111" stroke-width="3.0"/>
<text x="2769.2" y="1866.6" font-family="Liberation Sans" font-size="26" fill="#000" font-weight="normal" text-anchor="start" textLength="80" lengthAdjust="spacingAndGlyphs" stroke="#fff" stroke-width="0.75">PT1/8</text>
<line x1="2770.4" y1="1879.4" x2="2848" y2="1879.4" stroke="#111" stroke-width="1.25"/>
<line x1="2770.4" y1="1879.4" x2="2700.2" y2="1959" stroke="#111" stroke-width="1.25"/>
<polygon points="2700.2,1959 2706.6,1947.4 2710.6,1950.7" fill="#111"/>
<line x1="2660" y1="1904.8" x2="2660" y2="2076" stroke="#111" stroke-width="2.0"/>
<line x1="2801.7" y1="1904.8" x2="2801.7" y2="2076" stroke="#111" stroke-width="2.0"/>
<rect x="2660" y="1943.8" width="7.6" height="100.2" fill="none" stroke="#111" stroke-width="2.2"/>
<rect x="2667.6" y="1962.7" width="3" height="61.6" fill="none" stroke="#111" stroke-width="2.0"/>
<polyline points="2670.6,1960.3 2738.4,1962.7 2749.5,1965.2 2801.2,1965.2" fill="none" stroke="#111" stroke-width="2.2" stroke-linejoin="miter"/>
<polyline points="2670.6,2026.8 2738.4,2023.1 2749.5,2021.9 2801.2,2021.9" fill="none" stroke="#111" stroke-width="2.2" stroke-linejoin="miter"/>
<line x1="2670.6" y1="1963.3" x2="2738.4" y2="1965.2" stroke="#111" stroke-width="1.0"/>
<line x1="2670.6" y1="2023.6" x2="2738.4" y2="2021" stroke="#111" stroke-width="1.0"/>
<line x1="2738.4" y1="1962.7" x2="2738.4" y2="2023.1" stroke="#111" stroke-width="2.0"/>
<line x1="2644.7" y1="1993.5" x2="2823.4" y2="1993.5" stroke="#111" stroke-width="1.2" stroke-dasharray="40 6 4 6"/>
<line x1="2586.8" y1="1943.8" x2="2660" y2="1943.8" stroke="#111" stroke-width="1.25"/>
<line x1="2586.8" y1="2044" x2="2660" y2="2044" stroke="#111" stroke-width="1.25"/>
<line x1="2612.7" y1="1943.8" x2="2612.7" y2="2044" stroke="#111" stroke-width="1.25"/>
<polygon points="2612.7,1943.8 2615.3,1956.8 2610.1,1956.8" fill="#111"/>
<polygon points="2612.7,2044 2610.1,2031 2615.3,2031" fill="#111"/>
<text x="2611.5" y="2017" font-family="Liberation Sans" font-size="26" fill="#000" font-weight="normal" text-anchor="start" transform="rotate(-90 2611.5 2017)" textLength="44" lengthAdjust="spacingAndGlyphs" stroke="#fff" stroke-width="0.75">ø14</text>
<line x1="2631.2" y1="2080.3" x2="2707.6" y2="2080.3" stroke="#111" stroke-width="1.25"/>
<line x1="2667" y1="2044" x2="2667" y2="2083" stroke="#111" stroke-width="1.25"/>
<polygon points="2660,2080.3 2647,2082.9 2647,2077.7" fill="#111"/>
<polygon points="2667,2080.3 2680,2077.7 2680,2082.9" fill="#111"/>
<text x="2697.7" y="2077.3" font-family="Liberation Sans" font-size="26" fill="#000" font-weight="normal" text-anchor="start" textLength="10" lengthAdjust="spacingAndGlyphs" stroke="#fff" stroke-width="0.75">1</text></svg></body></html>
